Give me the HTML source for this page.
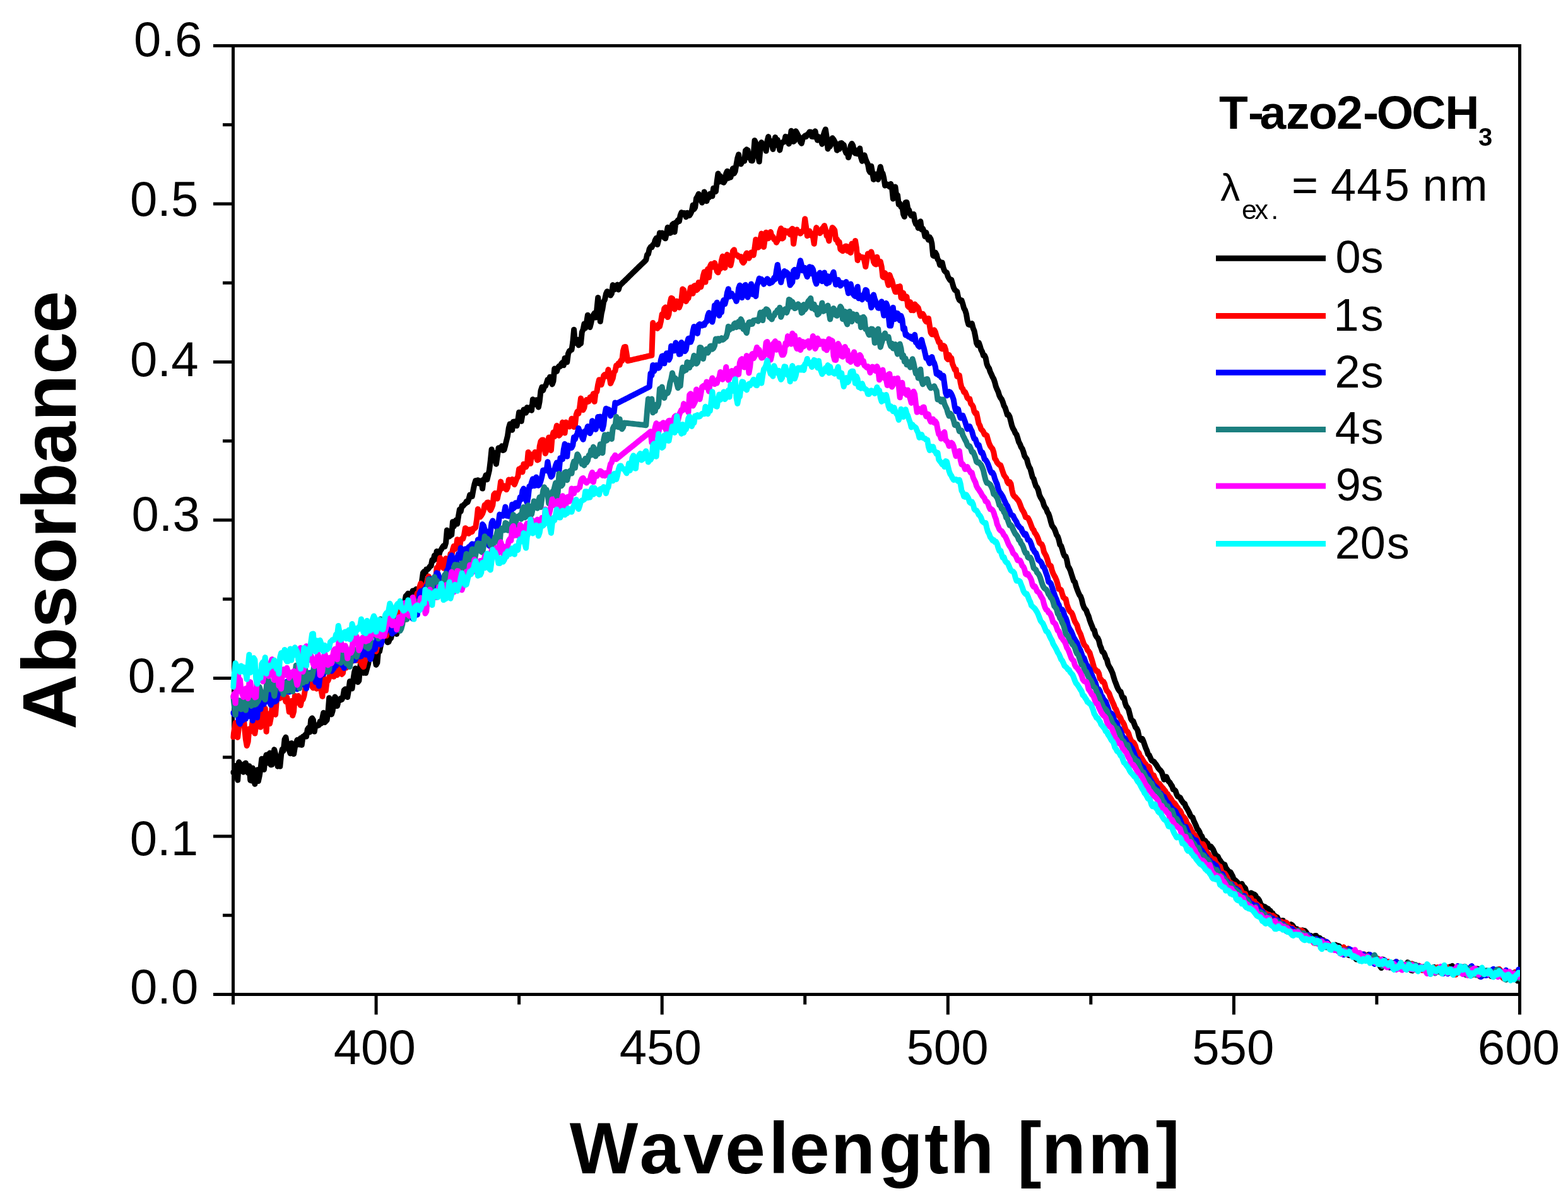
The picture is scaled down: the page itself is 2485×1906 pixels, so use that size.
<!DOCTYPE html><html><head><meta charset="utf-8"><title>Absorbance spectra</title>
<style>html,body{margin:0;padding:0;background:#fff;}svg{display:block;}text{font-family:"Liberation Sans",Arial,sans-serif;fill:#000;font-kerning:none;}</style></head><body>
<svg width="2485" height="1906" viewBox="0 0 2485 1906">
<rect x="0" y="0" width="2485" height="1906" fill="#fff"/>
<g stroke="#000" stroke-width="5" fill="none">
<rect x="369.5" y="72.5" width="2039.0" height="1503.0"/>
<line x1="338.0" y1="1575.5" x2="369.5" y2="1575.5"/>
<line x1="353.0" y1="1450.2" x2="369.5" y2="1450.2"/>
<line x1="338.0" y1="1325.0" x2="369.5" y2="1325.0"/>
<line x1="353.0" y1="1199.8" x2="369.5" y2="1199.8"/>
<line x1="338.0" y1="1074.5" x2="369.5" y2="1074.5"/>
<line x1="353.0" y1="949.2" x2="369.5" y2="949.2"/>
<line x1="338.0" y1="824.0" x2="369.5" y2="824.0"/>
<line x1="353.0" y1="698.7" x2="369.5" y2="698.7"/>
<line x1="338.0" y1="573.5" x2="369.5" y2="573.5"/>
<line x1="353.0" y1="448.2" x2="369.5" y2="448.2"/>
<line x1="338.0" y1="323.0" x2="369.5" y2="323.0"/>
<line x1="353.0" y1="197.7" x2="369.5" y2="197.7"/>
<line x1="338.0" y1="72.5" x2="369.5" y2="72.5"/>
<line x1="369.5" y1="1575.5" x2="369.5" y2="1591.5"/>
<line x1="596.1" y1="1575.5" x2="596.1" y2="1607.5"/>
<line x1="822.6" y1="1575.5" x2="822.6" y2="1591.5"/>
<line x1="1049.2" y1="1575.5" x2="1049.2" y2="1607.5"/>
<line x1="1275.7" y1="1575.5" x2="1275.7" y2="1591.5"/>
<line x1="1502.3" y1="1575.5" x2="1502.3" y2="1607.5"/>
<line x1="1728.8" y1="1575.5" x2="1728.8" y2="1591.5"/>
<line x1="1955.4" y1="1575.5" x2="1955.4" y2="1607.5"/>
<line x1="2181.9" y1="1575.5" x2="2181.9" y2="1591.5"/>
<line x1="2408.5" y1="1575.5" x2="2408.5" y2="1607.5"/>
</g>
<defs><clipPath id="pc"><rect x="365.5" y="72.5" width="2043.5" height="1503.0"/></clipPath></defs>
<g clip-path="url(#pc)" fill="none" stroke-width="9" stroke-linejoin="round" stroke-linecap="round">
<path stroke="#000000" d="M369.5,1223.8 L371.3,1223.2 L373.1,1213.3 L374.9,1218.0 L376.7,1235.9 L378.6,1207.6 L380.4,1210.3 L382.2,1214.6 L384.0,1220.4 L385.8,1223.3 L387.6,1210.3 L389.4,1208.9 L391.2,1215.1 L393.1,1224.4 L394.9,1213.8 L396.7,1236.2 L398.5,1236.9 L400.3,1217.1 L402.1,1228.1 L403.9,1242.2 L405.7,1231.7 L407.6,1219.8 L409.4,1237.4 L411.2,1229.3 L413.0,1218.1 L414.8,1202.2 L416.6,1210.5 L418.4,1219.3 L420.2,1202.7 L422.1,1195.9 L423.9,1208.8 L425.7,1196.6 L427.5,1192.9 L429.3,1211.8 L431.1,1211.4 L432.9,1202.8 L434.7,1187.6 L436.6,1194.8 L438.4,1204.5 L440.2,1214.2 L442.0,1207.2 L443.8,1214.2 L445.6,1195.7 L447.4,1187.0 L449.2,1189.5 L451.1,1171.4 L452.9,1168.1 L454.7,1178.8 L456.5,1181.7 L458.3,1188.6 L460.1,1193.8 L461.9,1177.4 L463.7,1179.0 L465.6,1194.6 L467.4,1184.1 L469.2,1178.7 L471.0,1172.3 L472.8,1175.6 L474.6,1179.8 L476.4,1169.5 L478.2,1180.3 L480.1,1167.1 L481.9,1166.7 L483.7,1164.3 L485.5,1167.0 L487.3,1155.7 L489.1,1152.9 L490.9,1159.9 L492.7,1140.7 L494.6,1137.8 L496.4,1140.7 L498.2,1159.1 L500.0,1148.9 L501.8,1149.0 L503.6,1149.7 L505.4,1148.9 L507.2,1143.1 L509.1,1146.2 L510.9,1137.5 L512.7,1129.3 L514.5,1144.5 L516.3,1142.7 L518.1,1140.8 L519.9,1128.3 L521.7,1105.8 L523.6,1110.4 L525.4,1131.9 L527.2,1126.2 L529.0,1110.8 L530.8,1104.1 L532.6,1106.8 L534.4,1118.5 L536.2,1111.6 L538.1,1110.0 L539.9,1106.6 L541.7,1108.4 L543.5,1104.6 L545.3,1093.7 L547.1,1091.8 L548.9,1095.0 L550.7,1104.5 L552.6,1093.4 L554.4,1079.6 L556.2,1085.5 L558.0,1090.9 L559.8,1076.7 L561.6,1065.0 L563.4,1059.0 L565.2,1073.7 L567.1,1080.7 L568.9,1078.4 L570.7,1056.3 L572.5,1045.5 L574.3,1063.6 L576.1,1066.2 L577.9,1059.8 L579.7,1066.3 L581.6,1059.1 L583.4,1052.8 L585.2,1043.2 L587.0,1040.5 L588.8,1041.4 L590.6,1035.1 L592.4,1038.3 L594.2,1042.7 L596.1,1053.4 L597.9,1050.1 L599.7,1030.0 L601.5,1032.1 L603.3,1023.1 L605.1,1015.8 L606.9,1009.7 L608.7,1012.1 L610.6,1009.0 L612.4,1012.5 L614.2,1017.8 L616.0,1016.9 L617.8,1012.1 L619.6,1011.2 L621.4,1004.2 L623.2,999.7 L625.1,992.7 L626.9,998.0 L628.7,1004.5 L630.5,993.0 L632.3,977.8 L634.1,971.1 L635.9,965.4 L637.7,978.0 L639.6,972.1 L641.4,953.3 L643.2,944.3 L645.0,942.7 L646.8,940.3 L648.6,956.0 L650.4,949.9 L652.2,942.7 L654.1,935.9 L655.9,939.5 L657.7,935.5 L659.5,933.6 L661.3,944.1 L663.1,936.1 L664.9,933.2 L666.7,930.7 L668.6,920.8 L670.4,907.7 L672.2,905.4 L674.0,908.6 L675.8,902.1 L677.6,902.2 L679.4,900.5 L681.2,897.6 L683.1,896.6 L684.9,887.3 L686.7,888.4 L688.5,880.0 L690.3,885.7 L692.1,873.5 L693.9,876.6 L695.7,879.3 L697.6,872.8 L699.4,870.5 L701.2,867.2 L703.0,864.8 L704.8,866.1 L706.6,860.2 L708.4,840.0 L710.2,845.1 L712.1,850.0 L713.9,848.3 L715.7,847.5 L717.5,826.7 L719.3,834.3 L721.1,826.7 L722.9,823.9 L724.7,830.1 L726.6,817.5 L728.4,807.3 L730.2,810.4 L732.0,801.8 L733.8,801.7 L735.6,799.3 L737.4,798.1 L739.2,794.6 L741.1,795.6 L742.9,790.9 L744.7,783.9 L746.5,786.9 L748.3,786.4 L750.1,776.0 L751.9,767.3 L753.7,761.6 L755.6,765.5 L757.4,760.7 L759.2,766.1 L761.0,762.0 L762.8,761.8 L764.6,774.1 L766.4,759.6 L768.2,758.2 L770.1,752.7 L771.9,759.8 L773.7,752.5 L775.5,745.0 L777.3,730.1 L779.1,712.0 L780.9,723.9 L782.7,717.1 L784.5,722.7 L786.4,735.2 L788.2,722.9 L790.0,709.8 L791.8,713.1 L793.6,709.9 L795.4,706.7 L797.2,713.5 L799.0,712.5 L800.9,705.5 L802.7,697.9 L804.5,690.6 L806.3,678.0 L808.1,671.8 L809.9,680.3 L811.7,681.3 L813.5,668.2 L815.4,668.0 L817.2,668.3 L819.0,674.6 L820.8,665.7 L822.6,653.2 L824.4,657.1 L826.2,667.4 L828.0,657.3 L829.9,649.0 L831.7,650.6 L833.5,654.0 L835.3,645.6 L837.1,650.0 L838.9,647.3 L840.7,645.0 L842.5,650.2 L844.4,632.7 L846.2,634.7 L848.0,640.7 L849.8,633.7 L851.6,639.2 L853.4,645.1 L855.2,635.8 L857.0,619.2 L858.9,613.3 L860.7,618.5 L862.5,612.7 L864.3,611.8 L866.1,607.4 L867.9,601.6 L869.7,604.8 L871.5,597.2 L873.4,597.8 L875.2,608.9 L877.0,603.7 L878.8,584.1 L880.6,587.3 L882.4,588.4 L884.2,582.5 L886.0,580.1 L887.9,580.6 L889.7,576.2 L891.5,574.2 L893.3,578.7 L895.1,567.5 L896.9,567.2 L898.7,573.8 L900.5,560.4 L902.4,556.2 L904.2,554.9 L906.0,554.1 L907.8,542.3 L909.6,522.3 L911.4,543.4 L913.2,538.4 L915.0,537.9 L916.9,546.9 L918.7,545.2 L920.5,544.3 L922.3,526.2 L924.1,522.1 L925.9,513.1 L927.7,519.9 L929.5,511.3 L931.4,499.2 L933.2,510.7 L935.0,518.5 L936.8,511.3 L938.6,503.0 L940.4,499.0 L942.2,496.0 L944.0,503.1 L945.9,489.9 L947.7,471.6 L949.5,485.7 L951.3,509.3 L953.1,497.0 L954.9,489.4 L956.7,478.1 L958.5,474.7 L960.4,465.7 L962.2,461.7 L964.0,463.2 L965.8,466.2 L967.6,468.0 L969.4,465.1 L971.2,451.6 L973.0,459.1 L974.9,458.0 L976.7,454.4 L978.5,451.1 L980.3,458.9 L982.1,452.5 L983.9,450.7 L985.7,449.0 L987.5,447.2 L989.4,445.5 L991.2,443.7 L993.0,441.9 L994.8,440.2 L996.6,438.4 L998.4,436.6 L1000.2,434.9 L1002.0,433.1 L1003.9,431.3 L1005.7,429.6 L1007.5,427.8 L1009.3,426.0 L1011.1,424.3 L1012.9,422.5 L1014.7,420.7 L1016.5,419.0 L1018.4,417.2 L1020.2,415.5 L1022.0,413.7 L1023.8,411.9 L1025.6,403.6 L1027.4,402.5 L1029.2,394.5 L1031.0,391.4 L1032.9,391.8 L1034.7,387.9 L1036.5,386.9 L1038.3,380.6 L1040.1,377.3 L1041.9,387.5 L1043.7,380.7 L1045.5,368.9 L1047.4,372.6 L1049.2,369.1 L1051.0,371.9 L1052.8,376.7 L1054.6,377.8 L1056.4,369.7 L1058.2,360.2 L1060.0,363.3 L1061.9,369.2 L1063.7,368.2 L1065.5,355.9 L1067.3,354.3 L1069.1,367.5 L1070.9,352.6 L1072.7,352.8 L1074.5,348.6 L1076.4,350.7 L1078.2,341.1 L1080.0,336.6 L1081.8,339.5 L1083.6,337.5 L1085.4,337.8 L1087.2,343.8 L1089.0,337.2 L1090.9,339.4 L1092.7,341.4 L1094.5,338.6 L1096.3,334.4 L1098.1,325.1 L1099.9,331.5 L1101.7,328.4 L1103.5,314.4 L1105.4,311.3 L1107.2,307.3 L1109.0,312.6 L1110.8,317.3 L1112.6,321.1 L1114.4,315.5 L1116.2,303.9 L1118.0,309.1 L1119.9,318.7 L1121.7,312.2 L1123.5,313.0 L1125.3,306.9 L1127.1,307.6 L1128.9,310.8 L1130.7,298.2 L1132.5,298.2 L1134.4,303.6 L1136.2,287.7 L1138.0,275.0 L1139.8,288.0 L1141.6,278.9 L1143.4,286.1 L1145.2,288.3 L1147.0,289.1 L1148.9,285.9 L1150.7,275.1 L1152.5,271.2 L1154.3,282.2 L1156.1,280.5 L1157.9,280.9 L1159.7,273.2 L1161.5,266.8 L1163.4,274.9 L1165.2,271.2 L1167.0,260.6 L1168.8,250.6 L1170.6,244.8 L1172.4,257.6 L1174.2,259.9 L1176.0,256.8 L1177.9,253.8 L1179.7,255.1 L1181.5,238.6 L1183.3,236.9 L1185.1,238.1 L1186.9,250.0 L1188.7,244.0 L1190.5,254.4 L1192.3,254.8 L1194.2,244.5 L1196.0,222.4 L1197.8,226.6 L1199.6,240.8 L1201.4,246.5 L1203.2,256.0 L1205.0,235.8 L1206.8,225.6 L1208.7,229.6 L1210.5,228.5 L1212.3,230.2 L1214.1,239.2 L1215.9,223.5 L1217.7,216.5 L1219.5,226.8 L1221.3,223.3 L1223.2,228.9 L1225.0,236.4 L1226.8,226.1 L1228.6,217.6 L1230.4,229.9 L1232.2,221.4 L1234.0,226.8 L1235.8,237.9 L1237.7,228.7 L1239.5,226.4 L1241.3,224.4 L1243.1,224.8 L1244.9,216.3 L1246.7,222.2 L1248.5,217.0 L1250.3,227.9 L1252.2,221.8 L1254.0,207.3 L1255.8,213.7 L1257.6,224.3 L1259.4,223.1 L1261.2,207.7 L1263.0,210.8 L1264.8,214.4 L1266.7,217.9 L1268.5,225.0 L1270.3,227.2 L1272.1,220.2 L1273.9,216.9 L1275.7,215.2 L1277.5,216.6 L1279.3,213.2 L1281.2,211.7 L1283.0,209.0 L1284.8,209.2 L1286.6,216.3 L1288.4,216.5 L1290.2,216.2 L1292.0,207.8 L1293.8,217.5 L1295.7,222.2 L1297.5,216.8 L1299.3,222.1 L1301.1,222.2 L1302.9,228.2 L1304.7,215.2 L1306.5,209.3 L1308.3,205.0 L1310.2,217.1 L1312.0,235.9 L1313.8,231.5 L1315.6,231.8 L1317.4,227.7 L1319.2,218.7 L1321.0,221.0 L1322.8,224.3 L1324.7,227.7 L1326.5,238.2 L1328.3,236.4 L1330.1,236.1 L1331.9,226.9 L1333.7,226.6 L1335.5,228.6 L1337.3,229.7 L1339.2,238.0 L1341.0,242.6 L1342.8,239.6 L1344.6,249.6 L1346.4,242.9 L1348.2,230.9 L1350.0,227.5 L1351.8,230.7 L1353.7,240.8 L1355.5,243.0 L1357.3,238.2 L1359.1,243.8 L1360.9,242.4 L1362.7,235.0 L1364.5,249.5 L1366.3,255.2 L1368.2,253.4 L1370.0,245.8 L1371.8,252.0 L1373.6,256.5 L1375.4,259.8 L1377.2,269.8 L1379.0,273.1 L1380.8,263.3 L1382.7,274.1 L1384.5,284.4 L1386.3,282.8 L1388.1,276.1 L1389.9,280.4 L1391.7,284.4 L1393.5,272.4 L1395.3,264.2 L1397.2,272.6 L1399.0,274.8 L1400.8,282.4 L1402.6,294.1 L1404.4,293.5 L1406.2,292.2 L1408.0,293.9 L1409.8,295.9 L1411.7,291.3 L1413.5,296.7 L1415.3,314.9 L1417.1,302.3 L1418.9,296.0 L1420.7,310.7 L1422.5,309.3 L1424.3,324.0 L1426.2,322.4 L1428.0,327.9 L1429.8,326.6 L1431.6,339.3 L1433.4,343.3 L1435.2,320.9 L1437.0,320.4 L1438.8,330.5 L1440.7,333.0 L1442.5,339.3 L1444.3,341.7 L1446.1,340.0 L1447.9,339.2 L1449.7,350.1 L1451.5,354.9 L1453.3,354.6 L1455.2,361.2 L1457.0,352.6 L1458.8,350.7 L1460.6,363.7 L1462.4,362.0 L1464.2,366.4 L1466.0,374.8 L1467.8,368.3 L1469.7,376.1 L1471.5,380.0 L1473.3,375.7 L1475.1,378.7 L1476.9,386.1 L1478.7,404.9 L1480.5,405.8 L1482.3,400.1 L1484.2,403.4 L1486.0,410.8 L1487.8,413.0 L1489.6,419.9 L1491.4,418.9 L1493.2,415.9 L1495.0,424.0 L1496.8,428.9 L1498.7,430.9 L1500.5,431.9 L1502.3,438.1 L1504.1,441.3 L1505.9,444.1 L1507.7,443.0 L1509.5,449.2 L1511.3,455.5 L1513.2,459.3 L1515.0,460.6 L1516.8,462.2 L1518.6,471.0 L1520.4,475.3 L1522.2,476.8 L1524.0,475.8 L1525.8,481.3 L1527.7,488.4 L1529.5,491.4 L1531.3,497.1 L1533.1,507.8 L1534.9,513.9 L1536.7,514.8 L1538.5,514.6 L1540.3,512.6 L1542.2,519.9 L1544.0,524.2 L1545.8,533.1 L1547.6,543.5 L1549.4,547.1 L1551.2,542.8 L1553.0,547.8 L1554.8,554.0 L1556.7,557.5 L1558.5,563.2 L1560.3,563.0 L1562.1,567.1 L1563.9,576.5 L1565.7,581.1 L1567.5,583.4 L1569.3,589.1 L1571.2,593.0 L1573.0,597.3 L1574.8,600.3 L1576.6,605.6 L1578.4,612.6 L1580.2,616.9 L1582.0,620.7 L1583.8,626.7 L1585.7,630.4 L1587.5,632.6 L1589.3,637.0 L1591.1,642.9 L1592.9,645.8 L1594.7,651.5 L1596.5,657.4 L1598.3,656.9 L1600.1,660.2 L1602.0,667.6 L1603.8,674.8 L1605.6,679.2 L1607.4,682.1 L1609.2,686.4 L1611.0,688.5 L1612.8,694.0 L1614.6,700.2 L1616.5,703.6 L1618.3,708.3 L1620.1,710.8 L1621.9,715.7 L1623.7,722.3 L1625.5,725.1 L1627.3,727.4 L1629.1,734.5 L1631.0,739.7 L1632.8,742.6 L1634.6,749.4 L1636.4,756.1 L1638.2,758.6 L1640.0,764.9 L1641.8,770.2 L1643.6,772.2 L1645.5,776.6 L1647.3,784.2 L1649.1,788.1 L1650.9,791.0 L1652.7,794.4 L1654.5,800.6 L1656.3,804.0 L1658.1,806.3 L1660.0,811.5 L1661.8,814.1 L1663.6,819.5 L1665.4,826.7 L1667.2,832.5 L1669.0,835.1 L1670.8,837.6 L1672.6,841.9 L1674.5,847.6 L1676.3,849.9 L1678.1,855.3 L1679.9,863.2 L1681.7,864.8 L1683.5,870.3 L1685.3,876.8 L1687.1,880.9 L1689.0,881.5 L1690.8,887.5 L1692.6,896.9 L1694.4,899.7 L1696.2,903.5 L1698.0,909.4 L1699.8,914.8 L1701.6,920.5 L1703.5,922.1 L1705.3,928.7 L1707.1,933.9 L1708.9,938.4 L1710.7,942.6 L1712.5,944.8 L1714.3,949.7 L1716.1,957.4 L1718.0,962.5 L1719.8,965.0 L1721.6,967.3 L1723.4,972.5 L1725.2,976.2 L1727.0,982.4 L1728.8,987.4 L1730.6,991.7 L1732.5,996.9 L1734.3,998.6 L1736.1,1005.9 L1737.9,1009.1 L1739.7,1010.8 L1741.5,1014.8 L1743.3,1022.5 L1745.1,1026.6 L1747.0,1032.8 L1748.8,1033.4 L1750.6,1036.8 L1752.4,1042.4 L1754.2,1044.9 L1756.0,1052.2 L1757.8,1055.9 L1759.6,1058.7 L1761.5,1062.7 L1763.3,1066.8 L1765.1,1073.2 L1766.9,1078.9 L1768.7,1083.3 L1770.5,1088.1 L1772.3,1092.1 L1774.1,1094.8 L1776.0,1095.9 L1777.8,1101.8 L1779.6,1106.0 L1781.4,1105.7 L1783.2,1114.1 L1785.0,1119.1 L1786.8,1121.1 L1788.6,1124.3 L1790.5,1131.9 L1792.3,1139.0 L1794.1,1141.7 L1795.9,1142.6 L1797.7,1147.4 L1799.5,1152.2 L1801.3,1153.9 L1803.1,1157.6 L1805.0,1166.1 L1806.8,1170.8 L1808.6,1172.4 L1810.4,1170.6 L1812.2,1174.8 L1814.0,1180.0 L1815.8,1185.2 L1817.6,1189.2 L1819.5,1195.2 L1821.3,1196.5 L1823.1,1200.5 L1824.9,1204.5 L1826.7,1205.8 L1828.5,1206.4 L1830.3,1209.0 L1832.1,1211.2 L1834.0,1214.2 L1835.8,1217.3 L1837.6,1219.3 L1839.4,1220.9 L1841.2,1223.6 L1843.0,1229.0 L1844.8,1235.1 L1846.6,1232.8 L1848.5,1230.8 L1850.3,1234.8 L1852.1,1238.1 L1853.9,1239.6 L1855.7,1243.0 L1857.5,1245.5 L1859.3,1250.7 L1861.1,1251.4 L1863.0,1253.1 L1864.8,1258.6 L1866.6,1261.9 L1868.4,1262.8 L1870.2,1263.4 L1872.0,1267.2 L1873.8,1269.9 L1875.6,1272.3 L1877.5,1273.4 L1879.3,1278.3 L1881.1,1280.9 L1882.9,1284.1 L1884.7,1287.5 L1886.5,1292.0 L1888.3,1294.3 L1890.1,1295.1 L1892.0,1300.6 L1893.8,1304.4 L1895.6,1308.4 L1897.4,1313.2 L1899.2,1315.0 L1901.0,1318.1 L1902.8,1323.2 L1904.6,1324.8 L1906.5,1329.9 L1908.3,1331.5 L1910.1,1332.1 L1911.9,1334.9 L1913.7,1336.2 L1915.5,1340.6 L1917.3,1342.3 L1919.1,1341.2 L1921.0,1343.7 L1922.8,1346.5 L1924.6,1350.9 L1926.4,1354.4 L1928.2,1355.7 L1930.0,1356.9 L1931.8,1360.9 L1933.6,1363.2 L1935.5,1366.3 L1937.3,1368.0 L1939.1,1370.9 L1940.9,1369.9 L1942.7,1375.0 L1944.5,1377.3 L1946.3,1379.7 L1948.1,1381.5 L1950.0,1381.8 L1951.8,1385.0 L1953.6,1388.4 L1955.4,1393.5 L1957.2,1394.3 L1959.0,1395.9 L1960.8,1397.6 L1962.6,1400.4 L1964.5,1402.8 L1966.3,1401.6 L1968.1,1400.2 L1969.9,1403.7 L1971.7,1405.4 L1973.5,1407.3 L1975.3,1413.9 L1977.1,1417.6 L1979.0,1417.7 L1980.8,1416.2 L1982.6,1414.7 L1984.4,1415.5 L1986.2,1421.1 L1988.0,1417.0 L1989.8,1418.9 L1991.6,1423.0 L1993.5,1423.5 L1995.3,1425.9 L1997.1,1430.0 L1998.9,1435.1 L2000.7,1434.9 L2002.5,1437.5 L2004.3,1436.5 L2006.1,1437.8 L2007.9,1439.6 L2009.8,1439.8 L2011.6,1443.6 L2013.4,1443.1 L2015.2,1447.0 L2017.0,1446.8 L2018.8,1451.3 L2020.6,1451.2 L2022.4,1452.5 L2024.3,1453.4 L2026.1,1457.6 L2027.9,1460.4 L2029.7,1461.3 L2031.5,1458.8 L2033.3,1458.5 L2035.1,1464.6 L2036.9,1468.0 L2038.8,1466.8 L2040.6,1465.5 L2042.4,1467.6 L2044.2,1469.0 L2046.0,1464.6 L2047.8,1465.6 L2049.6,1467.8 L2051.4,1471.3 L2053.3,1472.1 L2055.1,1471.8 L2056.9,1477.1 L2058.7,1474.0 L2060.5,1474.7 L2062.3,1475.1 L2064.1,1473.9 L2065.9,1475.6 L2067.8,1474.6 L2069.6,1476.5 L2071.4,1479.3 L2073.2,1483.6 L2075.0,1484.1 L2076.8,1482.3 L2078.6,1484.7 L2080.4,1485.4 L2082.3,1483.4 L2084.1,1482.6 L2085.9,1482.5 L2087.7,1486.0 L2089.5,1489.2 L2091.3,1485.9 L2093.1,1488.3 L2094.9,1489.4 L2096.8,1489.3 L2098.6,1491.1 L2100.4,1494.0 L2102.2,1493.1 L2104.0,1493.5 L2105.8,1496.2 L2107.6,1499.6 L2109.4,1500.3 L2111.3,1499.9 L2113.1,1502.4 L2114.9,1502.2 L2116.7,1496.9 L2118.5,1499.0 L2120.3,1498.5 L2122.1,1498.9 L2123.9,1500.8 L2125.8,1502.7 L2127.6,1507.1 L2129.4,1503.8 L2131.2,1506.7 L2133.0,1504.1 L2134.8,1506.3 L2136.6,1512.8 L2138.4,1513.6 L2140.3,1510.9 L2142.1,1507.1 L2143.9,1507.8 L2145.7,1509.8 L2147.5,1516.6 L2149.3,1520.0 L2151.1,1514.5 L2152.9,1513.6 L2154.8,1513.9 L2156.6,1512.3 L2158.4,1516.0 L2160.2,1519.3 L2162.0,1518.2 L2163.8,1516.0 L2165.6,1515.2 L2167.4,1514.4 L2169.3,1512.2 L2171.1,1516.8 L2172.9,1520.1 L2174.7,1522.7 L2176.5,1521.8 L2178.3,1518.3 L2180.1,1519.7 L2181.9,1521.5 L2183.8,1521.0 L2185.6,1524.2 L2187.4,1531.1 L2189.2,1533.6 L2191.0,1519.9 L2192.8,1520.5 L2194.6,1525.8 L2196.4,1530.9 L2198.3,1531.2 L2200.1,1524.4 L2201.9,1533.0 L2203.7,1529.6 L2205.5,1527.0 L2207.3,1525.5 L2209.1,1526.0 L2210.9,1526.5 L2212.8,1523.6 L2214.6,1530.1 L2216.4,1534.5 L2218.2,1530.1 L2220.0,1525.2 L2221.8,1528.3 L2223.6,1528.9 L2225.4,1530.8 L2227.3,1533.8 L2229.1,1527.8 L2230.9,1524.7 L2232.7,1527.3 L2234.5,1533.1 L2236.3,1537.2 L2238.1,1537.9 L2239.9,1534.4 L2241.8,1531.0 L2243.6,1532.5 L2245.4,1536.3 L2247.2,1533.8 L2249.0,1533.3 L2250.8,1533.3 L2252.6,1534.7 L2254.4,1534.6 L2256.3,1532.0 L2258.1,1535.4 L2259.9,1534.4 L2261.7,1533.3 L2263.5,1536.5 L2265.3,1535.9 L2267.1,1542.6 L2268.9,1536.2 L2270.8,1533.5 L2272.6,1532.2 L2274.4,1536.5 L2276.2,1537.6 L2278.0,1537.1 L2279.8,1536.0 L2281.6,1540.0 L2283.4,1540.4 L2285.3,1534.6 L2287.1,1539.5 L2288.9,1538.4 L2290.7,1535.1 L2292.5,1536.5 L2294.3,1533.2 L2296.1,1536.1 L2297.9,1531.7 L2299.8,1533.2 L2301.6,1530.3 L2303.4,1538.2 L2305.2,1539.1 L2307.0,1539.6 L2308.8,1540.2 L2310.6,1537.7 L2312.4,1533.9 L2314.3,1540.5 L2316.1,1539.5 L2317.9,1537.1 L2319.7,1535.4 L2321.5,1531.3 L2323.3,1533.1 L2325.1,1538.9 L2326.9,1540.3 L2328.8,1538.1 L2330.6,1542.5 L2332.4,1545.0 L2334.2,1541.5 L2336.0,1542.2 L2337.8,1544.1 L2339.6,1541.9 L2341.4,1534.9 L2343.3,1535.2 L2345.1,1537.4 L2346.9,1542.5 L2348.7,1546.4 L2350.5,1542.3 L2352.3,1540.2 L2354.1,1543.2 L2355.9,1540.6 L2357.8,1539.1 L2359.6,1540.8 L2361.4,1544.8 L2363.2,1546.7 L2365.0,1543.0 L2366.8,1544.6 L2368.6,1546.2 L2370.4,1544.2 L2372.3,1540.3 L2374.1,1542.6 L2375.9,1546.4 L2377.7,1544.4 L2379.5,1542.7 L2381.3,1541.2 L2383.1,1543.4 L2384.9,1544.8 L2386.8,1546.6 L2388.6,1541.3 L2390.4,1541.8 L2392.2,1541.4 L2394.0,1542.7 L2395.8,1545.5 L2397.6,1544.9 L2399.4,1543.5 L2401.3,1540.6 L2403.1,1548.1 L2404.9,1553.9 L2406.7,1548.2 L2408.5,1543.3"/>
<path stroke="#ff0000" d="M369.5,1167.7 L371.3,1156.4 L373.1,1145.2 L374.9,1162.6 L376.7,1168.3 L378.6,1150.7 L380.4,1132.0 L382.2,1119.5 L384.0,1128.8 L385.8,1131.1 L387.6,1153.8 L389.4,1171.5 L391.2,1181.5 L393.1,1175.3 L394.9,1154.8 L396.7,1155.0 L398.5,1158.3 L400.3,1140.3 L402.1,1145.9 L403.9,1162.1 L405.7,1150.6 L407.6,1115.7 L409.4,1142.3 L411.2,1150.8 L413.0,1152.1 L414.8,1125.2 L416.6,1130.0 L418.4,1125.3 L420.2,1122.3 L422.1,1159.2 L423.9,1130.7 L425.7,1137.8 L427.5,1146.6 L429.3,1137.4 L431.1,1121.5 L432.9,1118.2 L434.7,1127.0 L436.6,1132.2 L438.4,1108.6 L440.2,1099.7 L442.0,1102.8 L443.8,1106.2 L445.6,1092.3 L447.4,1091.1 L449.2,1101.5 L451.1,1104.3 L452.9,1111.6 L454.7,1104.6 L456.5,1114.3 L458.3,1128.0 L460.1,1120.5 L461.9,1110.5 L463.7,1133.7 L465.6,1127.3 L467.4,1102.4 L469.2,1113.8 L471.0,1111.3 L472.8,1102.4 L474.6,1112.9 L476.4,1117.5 L478.2,1108.7 L480.1,1108.2 L481.9,1102.5 L483.7,1091.9 L485.5,1075.7 L487.3,1080.6 L489.1,1080.3 L490.9,1080.6 L492.7,1079.5 L494.6,1087.7 L496.4,1090.0 L498.2,1083.8 L500.0,1084.6 L501.8,1091.2 L503.6,1085.4 L505.4,1073.4 L507.2,1083.0 L509.1,1094.0 L510.9,1103.4 L512.7,1073.7 L514.5,1082.3 L516.3,1094.1 L518.1,1079.1 L519.9,1078.3 L521.7,1073.6 L523.6,1066.2 L525.4,1062.1 L527.2,1064.3 L529.0,1072.1 L530.8,1069.5 L532.6,1058.2 L534.4,1069.5 L536.2,1063.5 L538.1,1057.6 L539.9,1066.6 L541.7,1068.2 L543.5,1066.3 L545.3,1054.9 L547.1,1056.1 L548.9,1058.0 L550.7,1053.0 L552.6,1049.2 L554.4,1038.2 L556.2,1039.1 L558.0,1047.9 L559.8,1040.4 L561.6,1030.1 L563.4,1044.1 L565.2,1046.3 L567.1,1042.4 L568.9,1041.8 L570.7,1045.7 L572.5,1051.3 L574.3,1054.4 L576.1,1056.6 L577.9,1049.1 L579.7,1043.1 L581.6,1037.8 L583.4,1022.1 L585.2,1036.5 L587.0,1038.4 L588.8,1027.6 L590.6,1024.3 L592.4,1029.6 L594.2,1026.1 L596.1,1032.1 L597.9,1023.9 L599.7,1019.6 L601.5,1010.8 L603.3,1021.1 L605.1,1013.9 L606.9,1006.6 L608.7,994.5 L610.6,993.3 L612.4,1007.2 L614.2,995.6 L616.0,992.0 L617.8,988.1 L619.6,985.9 L621.4,994.4 L623.2,996.3 L625.1,993.6 L626.9,981.9 L628.7,977.7 L630.5,981.0 L632.3,978.9 L634.1,964.6 L635.9,981.3 L637.7,974.8 L639.6,972.8 L641.4,981.8 L643.2,960.9 L645.0,955.4 L646.8,961.2 L648.6,965.1 L650.4,964.0 L652.2,973.3 L654.1,961.7 L655.9,962.5 L657.7,959.0 L659.5,946.5 L661.3,939.9 L663.1,945.0 L664.9,930.1 L666.7,924.5 L668.6,933.3 L670.4,934.5 L672.2,933.7 L674.0,930.6 L675.8,925.9 L677.6,917.9 L679.4,913.1 L681.2,923.9 L683.1,922.3 L684.9,923.6 L686.7,919.1 L688.5,921.4 L690.3,920.0 L692.1,899.6 L693.9,902.3 L695.7,894.0 L697.6,883.8 L699.4,889.6 L701.2,890.5 L703.0,900.2 L704.8,894.9 L706.6,884.7 L708.4,889.7 L710.2,892.2 L712.1,894.1 L713.9,877.6 L715.7,880.7 L717.5,870.8 L719.3,865.2 L721.1,870.1 L722.9,866.9 L724.7,854.7 L726.6,864.3 L728.4,866.6 L730.2,856.1 L732.0,853.4 L733.8,853.4 L735.6,847.6 L737.4,836.7 L739.2,838.0 L741.1,844.7 L742.9,845.4 L744.7,838.9 L746.5,843.0 L748.3,842.4 L750.1,837.2 L751.9,837.5 L753.7,835.6 L755.6,823.2 L757.4,806.6 L759.2,814.9 L761.0,819.1 L762.8,816.8 L764.6,813.8 L766.4,808.6 L768.2,800.0 L770.1,801.6 L771.9,796.2 L773.7,796.0 L775.5,805.6 L777.3,808.5 L779.1,804.8 L780.9,800.1 L782.7,783.7 L784.5,781.4 L786.4,785.6 L788.2,790.1 L790.0,781.5 L791.8,777.0 L793.6,763.1 L795.4,773.8 L797.2,772.0 L799.0,769.7 L800.9,773.9 L802.7,775.8 L804.5,772.2 L806.3,760.0 L808.1,764.4 L809.9,762.1 L811.7,759.3 L813.5,762.6 L815.4,767.7 L817.2,763.1 L819.0,758.1 L820.8,755.3 L822.6,743.0 L824.4,744.6 L826.2,741.1 L828.0,747.9 L829.9,735.2 L831.7,739.7 L833.5,740.0 L835.3,736.5 L837.1,716.4 L838.9,732.1 L840.7,734.4 L842.5,720.1 L844.4,720.0 L846.2,721.4 L848.0,716.2 L849.8,723.4 L851.6,729.1 L853.4,728.1 L855.2,707.0 L857.0,699.3 L858.9,697.0 L860.7,697.1 L862.5,708.2 L864.3,718.5 L866.1,713.8 L867.9,702.3 L869.7,693.1 L871.5,708.4 L873.4,713.6 L875.2,691.5 L877.0,685.0 L878.8,691.6 L880.6,682.1 L882.4,674.3 L884.2,676.6 L886.0,690.2 L887.9,687.9 L889.7,681.0 L891.5,669.1 L893.3,673.7 L895.1,686.0 L896.9,669.0 L898.7,671.0 L900.5,675.3 L902.4,675.9 L904.2,671.2 L906.0,663.2 L907.8,671.2 L909.6,676.6 L911.4,673.4 L913.2,657.0 L915.0,652.2 L916.9,655.2 L918.7,645.3 L920.5,631.1 L922.3,643.3 L924.1,649.6 L925.9,646.0 L927.7,636.4 L929.5,633.4 L931.4,636.6 L933.2,635.9 L935.0,629.7 L936.8,628.6 L938.6,628.9 L940.4,623.7 L942.2,636.3 L944.0,622.2 L945.9,620.4 L947.7,609.2 L949.5,601.7 L951.3,605.9 L953.1,609.4 L954.9,602.9 L956.7,595.2 L958.5,593.4 L960.4,596.3 L962.2,595.7 L964.0,585.6 L965.8,595.9 L967.6,607.6 L969.4,603.3 L971.2,599.3 L973.0,589.8 L974.9,587.7 L976.7,579.0 L978.5,579.6 L980.3,575.3 L982.1,578.1 L983.9,571.1 L985.7,571.8 L987.5,556.1 L989.4,549.6 L991.2,549.4 L993.0,560.0 L994.8,571.7 L996.6,571.3 L998.4,570.9 L1000.2,570.5 L1002.0,570.1 L1003.9,569.7 L1005.7,569.2 L1007.5,568.8 L1009.3,568.4 L1011.1,568.0 L1012.9,567.6 L1014.7,567.2 L1016.5,566.7 L1018.4,566.3 L1020.2,565.9 L1022.0,565.5 L1023.8,565.1 L1025.6,564.6 L1027.4,564.2 L1029.2,563.8 L1031.0,563.4 L1032.9,563.0 L1034.7,511.5 L1036.5,517.8 L1038.3,518.3 L1040.1,516.4 L1041.9,520.4 L1043.7,513.8 L1045.5,517.3 L1047.4,509.2 L1049.2,497.9 L1051.0,500.3 L1052.8,488.7 L1054.6,486.9 L1056.4,488.4 L1058.2,502.6 L1060.0,497.8 L1061.9,480.1 L1063.7,472.2 L1065.5,472.9 L1067.3,477.0 L1069.1,490.0 L1070.9,480.5 L1072.7,477.2 L1074.5,478.1 L1076.4,487.3 L1078.2,482.4 L1080.0,474.3 L1081.8,457.9 L1083.6,459.6 L1085.4,471.2 L1087.2,477.5 L1089.0,474.0 L1090.9,472.5 L1092.7,464.0 L1094.5,455.4 L1096.3,464.6 L1098.1,465.1 L1099.9,453.3 L1101.7,452.3 L1103.5,459.8 L1105.4,458.4 L1107.2,447.4 L1109.0,447.6 L1110.8,454.7 L1112.6,447.6 L1114.4,437.1 L1116.2,430.8 L1118.0,446.9 L1119.9,432.1 L1121.7,426.3 L1123.5,439.6 L1125.3,422.0 L1127.1,418.3 L1128.9,422.8 L1130.7,423.0 L1132.5,416.5 L1134.4,422.4 L1136.2,429.7 L1138.0,431.8 L1139.8,425.6 L1141.6,425.7 L1143.4,413.1 L1145.2,406.0 L1147.0,419.6 L1148.9,424.3 L1150.7,411.1 L1152.5,403.3 L1154.3,412.7 L1156.1,411.4 L1157.9,420.5 L1159.7,412.3 L1161.5,397.9 L1163.4,395.7 L1165.2,404.1 L1167.0,404.0 L1168.8,404.3 L1170.6,407.0 L1172.4,407.1 L1174.2,406.6 L1176.0,413.7 L1177.9,416.3 L1179.7,414.0 L1181.5,404.7 L1183.3,400.9 L1185.1,404.9 L1186.9,409.2 L1188.7,405.7 L1190.5,400.0 L1192.3,399.7 L1194.2,404.3 L1196.0,393.0 L1197.8,379.4 L1199.6,384.5 L1201.4,392.1 L1203.2,390.8 L1205.0,378.8 L1206.8,370.1 L1208.7,386.5 L1210.5,391.3 L1212.3,378.7 L1214.1,368.2 L1215.9,377.6 L1217.7,377.8 L1219.5,375.4 L1221.3,367.4 L1223.2,375.1 L1225.0,374.9 L1226.8,379.4 L1228.6,379.3 L1230.4,384.3 L1232.2,381.0 L1234.0,377.8 L1235.8,367.2 L1237.7,361.8 L1239.5,378.1 L1241.3,376.8 L1243.1,365.1 L1244.9,366.0 L1246.7,368.4 L1248.5,366.4 L1250.3,367.6 L1252.2,371.4 L1254.0,363.9 L1255.8,362.2 L1257.6,386.3 L1259.4,373.7 L1261.2,368.0 L1263.0,363.7 L1264.8,368.7 L1266.7,367.3 L1268.5,370.0 L1270.3,367.6 L1272.1,366.4 L1273.9,362.9 L1275.7,346.8 L1277.5,359.5 L1279.3,373.7 L1281.2,368.9 L1283.0,366.1 L1284.8,372.8 L1286.6,370.2 L1288.4,375.1 L1290.2,386.2 L1292.0,370.2 L1293.8,360.6 L1295.7,366.0 L1297.5,367.9 L1299.3,369.6 L1301.1,367.8 L1302.9,362.3 L1304.7,360.6 L1306.5,357.5 L1308.3,363.3 L1310.2,373.9 L1312.0,374.6 L1313.8,381.7 L1315.6,368.5 L1317.4,366.5 L1319.2,360.5 L1321.0,362.2 L1322.8,364.8 L1324.7,379.6 L1326.5,379.0 L1328.3,385.2 L1330.1,383.3 L1331.9,395.0 L1333.7,396.4 L1335.5,397.8 L1337.3,394.7 L1339.2,390.3 L1341.0,389.9 L1342.8,397.5 L1344.6,391.1 L1346.4,399.1 L1348.2,400.4 L1350.0,386.1 L1351.8,389.8 L1353.7,392.9 L1355.5,381.5 L1357.3,392.5 L1359.1,412.4 L1360.9,404.4 L1362.7,407.2 L1364.5,407.2 L1366.3,407.5 L1368.2,407.9 L1370.0,413.6 L1371.8,422.6 L1373.6,411.7 L1375.4,401.9 L1377.2,404.0 L1379.0,403.4 L1380.8,398.9 L1382.7,406.1 L1384.5,414.9 L1386.3,418.1 L1388.1,419.0 L1389.9,407.2 L1391.7,416.1 L1393.5,418.4 L1395.3,414.4 L1397.2,422.5 L1399.0,438.3 L1400.8,439.6 L1402.6,432.5 L1404.4,436.9 L1406.2,445.0 L1408.0,451.8 L1409.8,435.4 L1411.7,440.6 L1413.5,444.4 L1415.3,451.4 L1417.1,456.8 L1418.9,462.4 L1420.7,462.4 L1422.5,454.6 L1424.3,454.5 L1426.2,453.6 L1428.0,471.6 L1429.8,472.7 L1431.6,464.1 L1433.4,472.9 L1435.2,469.3 L1437.0,470.1 L1438.8,485.0 L1440.7,487.0 L1442.5,478.6 L1444.3,491.6 L1446.1,486.2 L1447.9,491.7 L1449.7,482.0 L1451.5,484.1 L1453.3,485.7 L1455.2,487.8 L1457.0,494.0 L1458.8,500.7 L1460.6,497.1 L1462.4,497.2 L1464.2,500.1 L1466.0,506.8 L1467.8,509.7 L1469.7,504.8 L1471.5,504.4 L1473.3,516.1 L1475.1,527.0 L1476.9,529.7 L1478.7,529.9 L1480.5,522.8 L1482.3,526.0 L1484.2,533.0 L1486.0,537.1 L1487.8,542.3 L1489.6,542.0 L1491.4,551.7 L1493.2,552.8 L1495.0,547.4 L1496.8,548.7 L1498.7,554.3 L1500.5,567.3 L1502.3,569.5 L1504.1,562.3 L1505.9,567.4 L1507.7,567.1 L1509.5,576.5 L1511.3,580.7 L1513.2,585.8 L1515.0,585.2 L1516.8,596.4 L1518.6,594.2 L1520.4,594.6 L1522.2,606.5 L1524.0,614.3 L1525.8,616.0 L1527.7,621.2 L1529.5,621.1 L1531.3,625.2 L1533.1,630.5 L1534.9,632.1 L1536.7,631.9 L1538.5,639.3 L1540.3,641.2 L1542.2,644.1 L1544.0,651.9 L1545.8,655.0 L1547.6,654.3 L1549.4,663.0 L1551.2,671.3 L1553.0,674.3 L1554.8,679.9 L1556.7,681.7 L1558.5,684.2 L1560.3,688.5 L1562.1,688.7 L1563.9,690.1 L1565.7,696.4 L1567.5,702.3 L1569.3,706.4 L1571.2,709.1 L1573.0,711.2 L1574.8,716.5 L1576.6,726.4 L1578.4,728.7 L1580.2,732.8 L1582.0,734.8 L1583.8,736.6 L1585.7,737.0 L1587.5,742.3 L1589.3,747.6 L1591.1,752.7 L1592.9,755.3 L1594.7,757.5 L1596.5,763.6 L1598.3,766.0 L1600.1,763.4 L1602.0,766.4 L1603.8,776.4 L1605.6,783.6 L1607.4,786.3 L1609.2,787.4 L1611.0,789.7 L1612.8,791.9 L1614.6,794.2 L1616.5,798.7 L1618.3,803.8 L1620.1,807.9 L1621.9,810.5 L1623.7,814.3 L1625.5,819.4 L1627.3,820.0 L1629.1,820.6 L1631.0,824.1 L1632.8,828.5 L1634.6,833.3 L1636.4,837.8 L1638.2,839.8 L1640.0,844.3 L1641.8,846.4 L1643.6,849.7 L1645.5,854.3 L1647.3,859.9 L1649.1,861.6 L1650.9,862.3 L1652.7,866.6 L1654.5,874.5 L1656.3,877.8 L1658.1,881.2 L1660.0,886.5 L1661.8,893.2 L1663.6,895.9 L1665.4,896.3 L1667.2,903.6 L1669.0,908.5 L1670.8,912.0 L1672.6,915.1 L1674.5,919.8 L1676.3,925.8 L1678.1,933.2 L1679.9,933.3 L1681.7,934.9 L1683.5,941.1 L1685.3,946.5 L1687.1,948.1 L1689.0,949.0 L1690.8,957.5 L1692.6,962.6 L1694.4,966.7 L1696.2,969.3 L1698.0,970.5 L1699.8,973.8 L1701.6,979.6 L1703.5,984.7 L1705.3,987.8 L1707.1,990.8 L1708.9,997.5 L1710.7,1001.5 L1712.5,1004.8 L1714.3,1010.5 L1716.1,1015.8 L1718.0,1021.1 L1719.8,1023.2 L1721.6,1024.9 L1723.4,1029.8 L1725.2,1031.7 L1727.0,1034.3 L1728.8,1040.4 L1730.6,1045.9 L1732.5,1052.8 L1734.3,1059.3 L1736.1,1060.8 L1737.9,1063.5 L1739.7,1063.4 L1741.5,1067.0 L1743.3,1075.1 L1745.1,1076.5 L1747.0,1080.2 L1748.8,1079.9 L1750.6,1083.4 L1752.4,1090.3 L1754.2,1094.6 L1756.0,1096.2 L1757.8,1098.8 L1759.6,1103.9 L1761.5,1108.4 L1763.3,1112.6 L1765.1,1116.5 L1766.9,1121.6 L1768.7,1123.8 L1770.5,1128.4 L1772.3,1133.6 L1774.1,1135.0 L1776.0,1138.0 L1777.8,1142.4 L1779.6,1144.5 L1781.4,1147.7 L1783.2,1153.5 L1785.0,1158.0 L1786.8,1159.1 L1788.6,1162.2 L1790.5,1168.6 L1792.3,1172.5 L1794.1,1175.6 L1795.9,1175.9 L1797.7,1178.1 L1799.5,1181.9 L1801.3,1188.6 L1803.1,1191.3 L1805.0,1193.2 L1806.8,1198.2 L1808.6,1199.9 L1810.4,1203.2 L1812.2,1206.1 L1814.0,1209.1 L1815.8,1210.7 L1817.6,1213.7 L1819.5,1214.1 L1821.3,1215.3 L1823.1,1221.9 L1824.9,1226.4 L1826.7,1228.9 L1828.5,1228.5 L1830.3,1233.5 L1832.1,1235.8 L1834.0,1240.5 L1835.8,1241.3 L1837.6,1241.7 L1839.4,1244.7 L1841.2,1246.9 L1843.0,1248.6 L1844.8,1251.0 L1846.6,1253.0 L1848.5,1257.0 L1850.3,1257.8 L1852.1,1261.3 L1853.9,1263.1 L1855.7,1265.4 L1857.5,1268.6 L1859.3,1272.2 L1861.1,1272.3 L1863.0,1274.7 L1864.8,1278.0 L1866.6,1279.7 L1868.4,1283.9 L1870.2,1284.4 L1872.0,1287.9 L1873.8,1293.7 L1875.6,1293.9 L1877.5,1296.1 L1879.3,1298.9 L1881.1,1304.1 L1882.9,1306.4 L1884.7,1308.8 L1886.5,1312.2 L1888.3,1316.9 L1890.1,1318.6 L1892.0,1322.2 L1893.8,1323.1 L1895.6,1326.2 L1897.4,1329.3 L1899.2,1333.7 L1901.0,1335.6 L1902.8,1337.2 L1904.6,1339.4 L1906.5,1337.3 L1908.3,1340.1 L1910.1,1346.8 L1911.9,1348.5 L1913.7,1351.3 L1915.5,1353.2 L1917.3,1357.4 L1919.1,1358.2 L1921.0,1360.3 L1922.8,1361.1 L1924.6,1361.2 L1926.4,1365.9 L1928.2,1368.1 L1930.0,1370.2 L1931.8,1372.5 L1933.6,1372.8 L1935.5,1380.0 L1937.3,1383.5 L1939.1,1383.5 L1940.9,1383.7 L1942.7,1386.3 L1944.5,1389.9 L1946.3,1395.9 L1948.1,1396.9 L1950.0,1398.3 L1951.8,1399.6 L1953.6,1401.3 L1955.4,1401.1 L1957.2,1401.8 L1959.0,1406.1 L1960.8,1408.9 L1962.6,1406.6 L1964.5,1405.2 L1966.3,1409.4 L1968.1,1413.3 L1969.9,1417.3 L1971.7,1415.7 L1973.5,1415.9 L1975.3,1422.2 L1977.1,1422.4 L1979.0,1427.2 L1980.8,1423.6 L1982.6,1422.7 L1984.4,1428.8 L1986.2,1428.0 L1988.0,1427.9 L1989.8,1432.5 L1991.6,1432.3 L1993.5,1433.9 L1995.3,1436.8 L1997.1,1435.9 L1998.9,1442.6 L2000.7,1443.1 L2002.5,1446.6 L2004.3,1446.2 L2006.1,1447.0 L2007.9,1449.1 L2009.8,1448.8 L2011.6,1449.3 L2013.4,1451.6 L2015.2,1451.7 L2017.0,1450.6 L2018.8,1452.2 L2020.6,1453.3 L2022.4,1458.6 L2024.3,1459.8 L2026.1,1458.8 L2027.9,1461.2 L2029.7,1459.9 L2031.5,1460.7 L2033.3,1463.1 L2035.1,1462.6 L2036.9,1461.3 L2038.8,1461.9 L2040.6,1463.7 L2042.4,1468.8 L2044.2,1470.8 L2046.0,1469.3 L2047.8,1469.4 L2049.6,1471.9 L2051.4,1475.0 L2053.3,1473.6 L2055.1,1476.8 L2056.9,1476.2 L2058.7,1473.7 L2060.5,1473.9 L2062.3,1474.2 L2064.1,1475.0 L2065.9,1477.8 L2067.8,1481.2 L2069.6,1486.0 L2071.4,1482.5 L2073.2,1486.5 L2075.0,1487.4 L2076.8,1484.8 L2078.6,1489.0 L2080.4,1491.1 L2082.3,1493.9 L2084.1,1494.4 L2085.9,1494.0 L2087.7,1493.4 L2089.5,1491.2 L2091.3,1493.6 L2093.1,1493.1 L2094.9,1493.1 L2096.8,1490.5 L2098.6,1490.7 L2100.4,1493.9 L2102.2,1495.5 L2104.0,1495.4 L2105.8,1497.1 L2107.6,1497.8 L2109.4,1498.1 L2111.3,1500.0 L2113.1,1503.7 L2114.9,1504.6 L2116.7,1502.2 L2118.5,1502.1 L2120.3,1501.6 L2122.1,1505.6 L2123.9,1503.3 L2125.8,1503.3 L2127.6,1504.5 L2129.4,1500.6 L2131.2,1506.5 L2133.0,1507.8 L2134.8,1505.6 L2136.6,1502.8 L2138.4,1505.9 L2140.3,1506.0 L2142.1,1512.3 L2143.9,1513.4 L2145.7,1510.3 L2147.5,1509.8 L2149.3,1512.7 L2151.1,1513.4 L2152.9,1513.2 L2154.8,1513.8 L2156.6,1514.4 L2158.4,1514.3 L2160.2,1512.6 L2162.0,1511.8 L2163.8,1513.4 L2165.6,1513.8 L2167.4,1514.9 L2169.3,1519.8 L2171.1,1521.9 L2172.9,1524.2 L2174.7,1522.5 L2176.5,1522.3 L2178.3,1520.2 L2180.1,1521.2 L2181.9,1520.5 L2183.8,1518.8 L2185.6,1520.7 L2187.4,1522.4 L2189.2,1526.4 L2191.0,1524.9 L2192.8,1525.1 L2194.6,1525.5 L2196.4,1528.9 L2198.3,1528.0 L2200.1,1523.5 L2201.9,1526.5 L2203.7,1529.0 L2205.5,1528.1 L2207.3,1525.7 L2209.1,1528.0 L2210.9,1525.1 L2212.8,1523.9 L2214.6,1527.1 L2216.4,1525.5 L2218.2,1527.5 L2220.0,1527.1 L2221.8,1534.2 L2223.6,1534.2 L2225.4,1531.3 L2227.3,1531.1 L2229.1,1533.6 L2230.9,1534.8 L2232.7,1535.2 L2234.5,1533.6 L2236.3,1529.8 L2238.1,1527.0 L2239.9,1528.0 L2241.8,1531.3 L2243.6,1533.6 L2245.4,1537.3 L2247.2,1531.2 L2249.0,1530.1 L2250.8,1535.3 L2252.6,1537.0 L2254.4,1537.2 L2256.3,1532.4 L2258.1,1532.4 L2259.9,1536.6 L2261.7,1534.5 L2263.5,1533.3 L2265.3,1534.3 L2267.1,1536.2 L2268.9,1535.2 L2270.8,1539.4 L2272.6,1540.5 L2274.4,1534.6 L2276.2,1533.5 L2278.0,1532.6 L2279.8,1535.4 L2281.6,1538.4 L2283.4,1537.6 L2285.3,1536.8 L2287.1,1537.0 L2288.9,1534.2 L2290.7,1531.7 L2292.5,1531.9 L2294.3,1534.1 L2296.1,1538.7 L2297.9,1538.9 L2299.8,1538.0 L2301.6,1541.4 L2303.4,1541.9 L2305.2,1544.1 L2307.0,1544.2 L2308.8,1536.3 L2310.6,1532.7 L2312.4,1534.8 L2314.3,1535.6 L2316.1,1541.1 L2317.9,1540.2 L2319.7,1539.0 L2321.5,1542.5 L2323.3,1544.8 L2325.1,1541.2 L2326.9,1538.4 L2328.8,1537.4 L2330.6,1539.4 L2332.4,1544.5 L2334.2,1544.0 L2336.0,1540.7 L2337.8,1542.2 L2339.6,1538.9 L2341.4,1538.9 L2343.3,1542.2 L2345.1,1547.2 L2346.9,1543.0 L2348.7,1538.6 L2350.5,1538.9 L2352.3,1539.5 L2354.1,1541.4 L2355.9,1541.9 L2357.8,1540.3 L2359.6,1541.8 L2361.4,1543.9 L2363.2,1538.5 L2365.0,1540.0 L2366.8,1543.7 L2368.6,1538.8 L2370.4,1537.8 L2372.3,1544.7 L2374.1,1540.6 L2375.9,1535.3 L2377.7,1537.1 L2379.5,1545.3 L2381.3,1548.8 L2383.1,1550.4 L2384.9,1545.0 L2386.8,1548.1 L2388.6,1546.8 L2390.4,1542.4 L2392.2,1548.7 L2394.0,1549.6 L2395.8,1546.3 L2397.6,1543.7 L2399.4,1542.5 L2401.3,1539.9 L2403.1,1545.2 L2404.9,1543.2 L2406.7,1543.9 L2408.5,1544.4"/>
<path stroke="#0000ff" d="M369.5,1129.5 L371.3,1132.1 L373.1,1124.3 L374.9,1111.0 L376.7,1128.1 L378.6,1144.6 L380.4,1147.1 L382.2,1131.7 L384.0,1141.6 L385.8,1126.5 L387.6,1130.6 L389.4,1139.1 L391.2,1129.4 L393.1,1124.3 L394.9,1134.8 L396.7,1134.4 L398.5,1126.8 L400.3,1141.7 L402.1,1128.9 L403.9,1114.7 L405.7,1116.2 L407.6,1136.9 L409.4,1117.0 L411.2,1106.0 L413.0,1123.5 L414.8,1105.7 L416.6,1099.3 L418.4,1115.8 L420.2,1101.8 L422.1,1111.1 L423.9,1089.2 L425.7,1086.0 L427.5,1113.5 L429.3,1117.0 L431.1,1109.2 L432.9,1112.6 L434.7,1100.9 L436.6,1111.5 L438.4,1109.6 L440.2,1098.4 L442.0,1098.4 L443.8,1091.5 L445.6,1096.9 L447.4,1090.0 L449.2,1089.4 L451.1,1084.6 L452.9,1088.3 L454.7,1079.7 L456.5,1096.1 L458.3,1096.3 L460.1,1088.5 L461.9,1089.1 L463.7,1072.0 L465.6,1077.4 L467.4,1068.9 L469.2,1091.1 L471.0,1091.9 L472.8,1074.5 L474.6,1083.1 L476.4,1076.4 L478.2,1084.8 L480.1,1078.2 L481.9,1071.4 L483.7,1081.8 L485.5,1090.9 L487.3,1077.9 L489.1,1066.3 L490.9,1066.1 L492.7,1069.1 L494.6,1072.9 L496.4,1069.0 L498.2,1067.8 L500.0,1080.7 L501.8,1062.9 L503.6,1074.0 L505.4,1086.9 L507.2,1071.7 L509.1,1053.8 L510.9,1047.1 L512.7,1068.4 L514.5,1063.9 L516.3,1056.2 L518.1,1052.8 L519.9,1057.4 L521.7,1057.5 L523.6,1061.4 L525.4,1063.2 L527.2,1060.9 L529.0,1059.0 L530.8,1052.8 L532.6,1054.8 L534.4,1047.4 L536.2,1043.8 L538.1,1034.0 L539.9,1046.8 L541.7,1053.7 L543.5,1052.5 L545.3,1058.6 L547.1,1053.3 L548.9,1054.0 L550.7,1043.0 L552.6,1038.9 L554.4,1041.4 L556.2,1031.3 L558.0,1030.5 L559.8,1039.5 L561.6,1046.5 L563.4,1045.0 L565.2,1037.7 L567.1,1031.1 L568.9,1035.0 L570.7,1040.2 L572.5,1039.9 L574.3,1027.2 L576.1,1029.2 L577.9,1035.9 L579.7,1037.5 L581.6,1028.2 L583.4,1029.5 L585.2,1038.2 L587.0,1044.5 L588.8,1039.2 L590.6,1020.0 L592.4,1018.9 L594.2,1028.9 L596.1,1020.1 L597.9,1009.6 L599.7,991.8 L601.5,1010.7 L603.3,1021.4 L605.1,1017.0 L606.9,1002.2 L608.7,998.0 L610.6,1002.6 L612.4,986.6 L614.2,982.5 L616.0,994.4 L617.8,998.4 L619.6,997.8 L621.4,1004.1 L623.2,994.2 L625.1,1000.8 L626.9,999.7 L628.7,985.7 L630.5,986.6 L632.3,989.6 L634.1,994.2 L635.9,984.8 L637.7,979.0 L639.6,975.3 L641.4,971.3 L643.2,975.2 L645.0,980.6 L646.8,967.9 L648.6,963.2 L650.4,957.5 L652.2,961.4 L654.1,980.3 L655.9,978.9 L657.7,963.3 L659.5,966.3 L661.3,974.0 L663.1,957.9 L664.9,940.5 L666.7,936.6 L668.6,950.6 L670.4,943.9 L672.2,933.7 L674.0,935.0 L675.8,929.2 L677.6,929.7 L679.4,917.7 L681.2,916.9 L683.1,921.1 L684.9,921.1 L686.7,925.2 L688.5,928.4 L690.3,914.5 L692.1,907.9 L693.9,908.3 L695.7,913.8 L697.6,915.8 L699.4,922.3 L701.2,922.2 L703.0,925.7 L704.8,911.0 L706.6,911.2 L708.4,903.7 L710.2,901.4 L712.1,892.0 L713.9,883.2 L715.7,879.8 L717.5,884.8 L719.3,892.2 L721.1,896.5 L722.9,899.6 L724.7,883.3 L726.6,877.5 L728.4,882.5 L730.2,868.1 L732.0,882.4 L733.8,889.2 L735.6,879.7 L737.4,869.8 L739.2,875.0 L741.1,875.2 L742.9,866.6 L744.7,873.3 L746.5,863.5 L748.3,861.8 L750.1,867.6 L751.9,862.0 L753.7,865.5 L755.6,870.7 L757.4,854.9 L759.2,858.7 L761.0,862.0 L762.8,842.1 L764.6,830.6 L766.4,833.0 L768.2,839.3 L770.1,843.2 L771.9,842.1 L773.7,854.3 L775.5,864.9 L777.3,842.5 L779.1,828.6 L780.9,825.1 L782.7,832.0 L784.5,832.1 L786.4,834.5 L788.2,836.8 L790.0,828.7 L791.8,815.1 L793.6,816.1 L795.4,815.7 L797.2,817.4 L799.0,812.6 L800.9,803.1 L802.7,817.3 L804.5,814.5 L806.3,818.1 L808.1,813.3 L809.9,811.5 L811.7,799.2 L813.5,805.7 L815.4,804.0 L817.2,796.7 L819.0,800.2 L820.8,802.1 L822.6,795.4 L824.4,787.5 L826.2,791.3 L828.0,777.6 L829.9,774.1 L831.7,780.4 L833.5,791.7 L835.3,796.4 L837.1,787.0 L838.9,770.5 L840.7,771.5 L842.5,764.2 L844.4,758.7 L846.2,769.7 L848.0,769.4 L849.8,756.0 L851.6,763.1 L853.4,769.2 L855.2,767.2 L857.0,762.0 L858.9,754.7 L860.7,744.9 L862.5,745.5 L864.3,744.4 L866.1,745.7 L867.9,731.8 L869.7,742.4 L871.5,750.0 L873.4,755.5 L875.2,753.6 L877.0,745.5 L878.8,743.7 L880.6,737.4 L882.4,733.0 L884.2,740.4 L886.0,745.9 L887.9,725.8 L889.7,725.6 L891.5,727.7 L893.3,712.1 L895.1,703.3 L896.9,713.5 L898.7,723.2 L900.5,705.7 L902.4,709.9 L904.2,709.8 L906.0,709.3 L907.8,705.6 L909.6,692.7 L911.4,696.0 L913.2,690.2 L915.0,687.0 L916.9,678.3 L918.7,685.8 L920.5,684.0 L922.3,692.8 L924.1,696.3 L925.9,689.0 L927.7,682.7 L929.5,682.3 L931.4,675.6 L933.2,683.0 L935.0,686.5 L936.8,682.2 L938.6,666.8 L940.4,669.5 L942.2,676.1 L944.0,680.4 L945.9,675.1 L947.7,660.5 L949.5,660.7 L951.3,660.0 L953.1,673.0 L954.9,679.9 L956.7,673.0 L958.5,656.6 L960.4,647.2 L962.2,648.5 L964.0,648.5 L965.8,649.6 L967.6,658.9 L969.4,653.2 L971.2,650.5 L973.0,653.7 L974.9,637.9 L976.7,639.6 L978.5,638.7 L980.3,637.8 L982.1,636.9 L983.9,635.9 L985.7,635.0 L987.5,634.1 L989.4,633.2 L991.2,632.2 L993.0,631.3 L994.8,630.4 L996.6,629.5 L998.4,628.5 L1000.2,627.6 L1002.0,626.7 L1003.9,625.8 L1005.7,624.8 L1007.5,623.9 L1009.3,623.0 L1011.1,622.1 L1012.9,621.1 L1014.7,620.2 L1016.5,619.3 L1018.4,618.4 L1020.2,617.4 L1022.0,616.5 L1023.8,615.6 L1025.6,614.7 L1027.4,613.8 L1029.2,612.8 L1031.0,591.6 L1032.9,594.8 L1034.7,578.5 L1036.5,588.2 L1038.3,584.1 L1040.1,578.5 L1041.9,581.1 L1043.7,583.2 L1045.5,580.8 L1047.4,570.3 L1049.2,564.1 L1051.0,563.8 L1052.8,575.8 L1054.6,566.4 L1056.4,559.8 L1058.2,559.7 L1060.0,570.2 L1061.9,566.2 L1063.7,548.2 L1065.5,552.6 L1067.3,555.8 L1069.1,555.5 L1070.9,543.0 L1072.7,546.1 L1074.5,552.7 L1076.4,561.2 L1078.2,560.9 L1080.0,542.6 L1081.8,545.2 L1083.6,554.7 L1085.4,556.6 L1087.2,553.9 L1089.0,542.7 L1090.9,536.4 L1092.7,536.0 L1094.5,542.0 L1096.3,537.5 L1098.1,524.8 L1099.9,517.4 L1101.7,519.6 L1103.5,523.7 L1105.4,528.4 L1107.2,514.8 L1109.0,513.5 L1110.8,514.6 L1112.6,516.0 L1114.4,513.3 L1116.2,515.1 L1118.0,510.7 L1119.9,509.7 L1121.7,500.3 L1123.5,495.5 L1125.3,504.7 L1127.1,507.5 L1128.9,510.0 L1130.7,500.9 L1132.5,483.8 L1134.4,486.9 L1136.2,479.2 L1138.0,493.3 L1139.8,500.1 L1141.6,492.8 L1143.4,494.9 L1145.2,479.8 L1147.0,475.4 L1148.9,481.6 L1150.7,474.4 L1152.5,463.6 L1154.3,457.7 L1156.1,470.0 L1157.9,465.1 L1159.7,465.1 L1161.5,468.3 L1163.4,471.0 L1165.2,472.6 L1167.0,477.3 L1168.8,471.8 L1170.6,456.9 L1172.4,452.0 L1174.2,464.3 L1176.0,471.6 L1177.9,460.3 L1179.7,453.1 L1181.5,451.2 L1183.3,462.4 L1185.1,471.1 L1186.9,463.0 L1188.7,460.6 L1190.5,449.9 L1192.3,466.2 L1194.2,466.4 L1196.0,463.8 L1197.8,469.5 L1199.6,451.7 L1201.4,448.1 L1203.2,441.1 L1205.0,443.8 L1206.8,442.5 L1208.7,444.4 L1210.5,450.3 L1212.3,446.0 L1214.1,446.8 L1215.9,441.7 L1217.7,443.4 L1219.5,449.0 L1221.3,448.0 L1223.2,447.5 L1225.0,445.3 L1226.8,439.9 L1228.6,442.3 L1230.4,429.6 L1232.2,419.5 L1234.0,430.7 L1235.8,435.1 L1237.7,447.3 L1239.5,438.4 L1241.3,437.8 L1243.1,429.5 L1244.9,433.5 L1246.7,431.6 L1248.5,433.2 L1250.3,439.9 L1252.2,451.8 L1254.0,449.4 L1255.8,447.0 L1257.6,429.0 L1259.4,427.3 L1261.2,436.4 L1263.0,438.6 L1264.8,430.4 L1266.7,421.4 L1268.5,412.8 L1270.3,419.8 L1272.1,428.7 L1273.9,428.6 L1275.7,424.3 L1277.5,433.9 L1279.3,438.5 L1281.2,430.0 L1283.0,422.7 L1284.8,433.6 L1286.6,423.7 L1288.4,426.8 L1290.2,435.1 L1292.0,445.2 L1293.8,449.8 L1295.7,443.0 L1297.5,434.6 L1299.3,432.1 L1301.1,440.4 L1302.9,445.8 L1304.7,441.5 L1306.5,431.9 L1308.3,445.8 L1310.2,449.2 L1312.0,437.6 L1313.8,447.7 L1315.6,441.2 L1317.4,442.0 L1319.2,435.5 L1321.0,431.1 L1322.8,441.7 L1324.7,451.0 L1326.5,447.9 L1328.3,443.3 L1330.1,450.1 L1331.9,452.8 L1333.7,448.1 L1335.5,449.4 L1337.3,448.5 L1339.2,450.3 L1341.0,446.6 L1342.8,456.4 L1344.6,464.7 L1346.4,457.1 L1348.2,449.9 L1350.0,458.6 L1351.8,465.1 L1353.7,468.3 L1355.5,469.5 L1357.3,462.4 L1359.1,454.2 L1360.9,472.8 L1362.7,471.6 L1364.5,468.0 L1366.3,474.7 L1368.2,470.5 L1370.0,465.1 L1371.8,459.2 L1373.6,460.3 L1375.4,474.2 L1377.2,470.4 L1379.0,476.1 L1380.8,487.3 L1382.7,482.3 L1384.5,467.0 L1386.3,473.7 L1388.1,478.0 L1389.9,484.0 L1391.7,488.1 L1393.5,488.3 L1395.3,484.1 L1397.2,477.8 L1399.0,489.8 L1400.8,500.0 L1402.6,487.7 L1404.4,480.3 L1406.2,484.7 L1408.0,499.1 L1409.8,516.1 L1411.7,516.1 L1413.5,506.8 L1415.3,487.3 L1417.1,503.5 L1418.9,505.5 L1420.7,496.1 L1422.5,496.4 L1424.3,499.3 L1426.2,507.7 L1428.0,500.3 L1429.8,505.8 L1431.6,521.7 L1433.4,519.5 L1435.2,530.9 L1437.0,529.8 L1438.8,532.7 L1440.7,533.9 L1442.5,533.2 L1444.3,536.1 L1446.1,537.1 L1447.9,537.6 L1449.7,530.3 L1451.5,542.5 L1453.3,543.5 L1455.2,547.7 L1457.0,549.3 L1458.8,547.4 L1460.6,538.2 L1462.4,546.0 L1464.2,551.5 L1466.0,559.3 L1467.8,567.2 L1469.7,566.9 L1471.5,571.6 L1473.3,575.7 L1475.1,567.1 L1476.9,565.5 L1478.7,571.7 L1480.5,574.9 L1482.3,580.8 L1484.2,592.4 L1486.0,589.3 L1487.8,594.7 L1489.6,591.3 L1491.4,597.9 L1493.2,599.4 L1495.0,595.1 L1496.8,608.4 L1498.7,622.4 L1500.5,626.9 L1502.3,625.6 L1504.1,620.5 L1505.9,621.3 L1507.7,624.2 L1509.5,628.1 L1511.3,633.4 L1513.2,645.1 L1515.0,651.5 L1516.8,647.4 L1518.6,648.4 L1520.4,656.9 L1522.2,662.3 L1524.0,661.2 L1525.8,658.2 L1527.7,663.3 L1529.5,668.2 L1531.3,674.1 L1533.1,679.7 L1534.9,677.7 L1536.7,675.5 L1538.5,679.9 L1540.3,683.1 L1542.2,690.2 L1544.0,695.1 L1545.8,695.7 L1547.6,701.2 L1549.4,705.7 L1551.2,704.9 L1553.0,711.4 L1554.8,717.2 L1556.7,716.5 L1558.5,721.0 L1560.3,727.5 L1562.1,728.7 L1563.9,731.4 L1565.7,735.1 L1567.5,740.0 L1569.3,745.4 L1571.2,749.1 L1573.0,748.7 L1574.8,751.9 L1576.6,758.4 L1578.4,762.9 L1580.2,767.1 L1582.0,774.2 L1583.8,779.2 L1585.7,781.3 L1587.5,784.2 L1589.3,787.0 L1591.1,791.2 L1592.9,795.3 L1594.7,799.1 L1596.5,801.4 L1598.3,806.3 L1600.1,809.8 L1602.0,815.4 L1603.8,816.0 L1605.6,817.1 L1607.4,821.1 L1609.2,824.0 L1611.0,826.9 L1612.8,831.6 L1614.6,833.6 L1616.5,836.0 L1618.3,836.9 L1620.1,841.7 L1621.9,844.4 L1623.7,847.6 L1625.5,845.7 L1627.3,850.0 L1629.1,855.3 L1631.0,855.6 L1632.8,858.3 L1634.6,862.8 L1636.4,869.0 L1638.2,871.5 L1640.0,875.1 L1641.8,876.3 L1643.6,881.3 L1645.5,887.0 L1647.3,888.4 L1649.1,889.8 L1650.9,892.5 L1652.7,897.8 L1654.5,898.8 L1656.3,903.4 L1658.1,908.8 L1660.0,914.1 L1661.8,922.0 L1663.6,922.7 L1665.4,924.6 L1667.2,929.7 L1669.0,935.5 L1670.8,941.2 L1672.6,946.0 L1674.5,950.1 L1676.3,955.7 L1678.1,958.5 L1679.9,965.1 L1681.7,965.4 L1683.5,965.9 L1685.3,969.2 L1687.1,975.8 L1689.0,978.8 L1690.8,983.7 L1692.6,991.1 L1694.4,995.1 L1696.2,998.0 L1698.0,1001.1 L1699.8,1005.3 L1701.6,1010.2 L1703.5,1012.9 L1705.3,1016.0 L1707.1,1018.7 L1708.9,1024.1 L1710.7,1027.5 L1712.5,1030.9 L1714.3,1036.1 L1716.1,1041.5 L1718.0,1042.5 L1719.8,1047.8 L1721.6,1052.5 L1723.4,1054.6 L1725.2,1058.6 L1727.0,1060.3 L1728.8,1066.1 L1730.6,1069.7 L1732.5,1074.4 L1734.3,1078.3 L1736.1,1081.8 L1737.9,1088.2 L1739.7,1092.4 L1741.5,1092.1 L1743.3,1095.3 L1745.1,1101.3 L1747.0,1103.8 L1748.8,1107.6 L1750.6,1109.7 L1752.4,1111.6 L1754.2,1116.7 L1756.0,1121.5 L1757.8,1127.8 L1759.6,1129.6 L1761.5,1130.3 L1763.3,1132.5 L1765.1,1138.7 L1766.9,1142.3 L1768.7,1143.7 L1770.5,1146.8 L1772.3,1153.0 L1774.1,1154.2 L1776.0,1158.1 L1777.8,1163.1 L1779.6,1167.4 L1781.4,1168.8 L1783.2,1170.8 L1785.0,1174.7 L1786.8,1178.7 L1788.6,1181.9 L1790.5,1180.1 L1792.3,1183.4 L1794.1,1185.4 L1795.9,1189.5 L1797.7,1194.3 L1799.5,1199.2 L1801.3,1202.9 L1803.1,1202.8 L1805.0,1207.5 L1806.8,1210.2 L1808.6,1213.6 L1810.4,1214.8 L1812.2,1216.3 L1814.0,1221.3 L1815.8,1223.2 L1817.6,1226.4 L1819.5,1228.3 L1821.3,1232.5 L1823.1,1235.8 L1824.9,1237.9 L1826.7,1241.4 L1828.5,1244.3 L1830.3,1245.5 L1832.1,1247.4 L1834.0,1249.0 L1835.8,1254.2 L1837.6,1256.3 L1839.4,1256.8 L1841.2,1259.3 L1843.0,1262.0 L1844.8,1262.3 L1846.6,1266.1 L1848.5,1269.4 L1850.3,1271.4 L1852.1,1273.1 L1853.9,1276.3 L1855.7,1278.9 L1857.5,1280.7 L1859.3,1283.3 L1861.1,1283.4 L1863.0,1285.5 L1864.8,1289.4 L1866.6,1292.5 L1868.4,1294.9 L1870.2,1298.2 L1872.0,1303.4 L1873.8,1308.2 L1875.6,1310.0 L1877.5,1310.2 L1879.3,1310.0 L1881.1,1314.7 L1882.9,1318.7 L1884.7,1322.9 L1886.5,1325.2 L1888.3,1325.9 L1890.1,1328.8 L1892.0,1329.9 L1893.8,1330.9 L1895.6,1331.1 L1897.4,1336.7 L1899.2,1341.2 L1901.0,1342.8 L1902.8,1346.2 L1904.6,1347.3 L1906.5,1350.0 L1908.3,1353.0 L1910.1,1355.6 L1911.9,1357.5 L1913.7,1360.8 L1915.5,1362.5 L1917.3,1363.3 L1919.1,1368.1 L1921.0,1367.6 L1922.8,1368.0 L1924.6,1370.2 L1926.4,1370.8 L1928.2,1373.1 L1930.0,1378.1 L1931.8,1384.4 L1933.6,1385.0 L1935.5,1385.7 L1937.3,1384.9 L1939.1,1388.5 L1940.9,1393.0 L1942.7,1395.6 L1944.5,1396.0 L1946.3,1398.9 L1948.1,1403.5 L1950.0,1401.9 L1951.8,1400.9 L1953.6,1404.5 L1955.4,1406.5 L1957.2,1407.5 L1959.0,1407.9 L1960.8,1410.9 L1962.6,1410.6 L1964.5,1414.9 L1966.3,1420.6 L1968.1,1420.1 L1969.9,1419.2 L1971.7,1419.3 L1973.5,1422.5 L1975.3,1424.3 L1977.1,1425.5 L1979.0,1426.4 L1980.8,1433.3 L1982.6,1434.1 L1984.4,1432.0 L1986.2,1433.7 L1988.0,1435.7 L1989.8,1434.6 L1991.6,1434.4 L1993.5,1438.2 L1995.3,1441.0 L1997.1,1443.0 L1998.9,1444.4 L2000.7,1444.3 L2002.5,1446.9 L2004.3,1448.7 L2006.1,1452.2 L2007.9,1454.0 L2009.8,1453.0 L2011.6,1451.8 L2013.4,1453.6 L2015.2,1454.9 L2017.0,1455.0 L2018.8,1459.9 L2020.6,1463.1 L2022.4,1459.1 L2024.3,1457.8 L2026.1,1459.1 L2027.9,1465.3 L2029.7,1466.8 L2031.5,1466.3 L2033.3,1464.0 L2035.1,1465.9 L2036.9,1468.9 L2038.8,1475.4 L2040.6,1473.3 L2042.4,1470.1 L2044.2,1471.5 L2046.0,1474.1 L2047.8,1471.6 L2049.6,1474.4 L2051.4,1475.5 L2053.3,1476.0 L2055.1,1477.8 L2056.9,1474.5 L2058.7,1476.6 L2060.5,1480.6 L2062.3,1483.9 L2064.1,1486.8 L2065.9,1485.8 L2067.8,1482.9 L2069.6,1485.2 L2071.4,1485.9 L2073.2,1481.2 L2075.0,1482.6 L2076.8,1485.1 L2078.6,1487.5 L2080.4,1490.0 L2082.3,1489.5 L2084.1,1489.1 L2085.9,1487.2 L2087.7,1489.5 L2089.5,1492.4 L2091.3,1490.9 L2093.1,1489.4 L2094.9,1489.7 L2096.8,1491.0 L2098.6,1492.8 L2100.4,1494.3 L2102.2,1491.9 L2104.0,1495.4 L2105.8,1498.3 L2107.6,1498.8 L2109.4,1499.9 L2111.3,1499.2 L2113.1,1500.1 L2114.9,1504.6 L2116.7,1500.8 L2118.5,1504.7 L2120.3,1507.1 L2122.1,1507.1 L2123.9,1504.8 L2125.8,1508.4 L2127.6,1511.0 L2129.4,1512.7 L2131.2,1512.1 L2133.0,1510.6 L2134.8,1508.5 L2136.6,1508.3 L2138.4,1503.5 L2140.3,1504.8 L2142.1,1505.5 L2143.9,1507.6 L2145.7,1512.4 L2147.5,1511.6 L2149.3,1515.7 L2151.1,1517.9 L2152.9,1513.4 L2154.8,1512.6 L2156.6,1513.1 L2158.4,1513.5 L2160.2,1511.8 L2162.0,1512.8 L2163.8,1515.5 L2165.6,1519.5 L2167.4,1518.0 L2169.3,1515.0 L2171.1,1512.5 L2172.9,1517.2 L2174.7,1522.2 L2176.5,1524.4 L2178.3,1527.4 L2180.1,1520.9 L2181.9,1521.2 L2183.8,1522.0 L2185.6,1524.7 L2187.4,1524.9 L2189.2,1522.3 L2191.0,1525.5 L2192.8,1523.0 L2194.6,1521.5 L2196.4,1527.2 L2198.3,1526.6 L2200.1,1527.6 L2201.9,1532.0 L2203.7,1531.0 L2205.5,1530.9 L2207.3,1534.3 L2209.1,1529.8 L2210.9,1524.9 L2212.8,1523.6 L2214.6,1529.8 L2216.4,1530.6 L2218.2,1528.4 L2220.0,1531.8 L2221.8,1532.2 L2223.6,1529.5 L2225.4,1530.2 L2227.3,1532.7 L2229.1,1529.2 L2230.9,1530.8 L2232.7,1533.5 L2234.5,1533.3 L2236.3,1532.6 L2238.1,1535.6 L2239.9,1535.8 L2241.8,1534.4 L2243.6,1535.6 L2245.4,1535.1 L2247.2,1530.4 L2249.0,1531.6 L2250.8,1532.7 L2252.6,1534.3 L2254.4,1533.9 L2256.3,1534.5 L2258.1,1535.8 L2259.9,1534.3 L2261.7,1535.6 L2263.5,1536.1 L2265.3,1532.5 L2267.1,1534.0 L2268.9,1537.9 L2270.8,1534.7 L2272.6,1537.0 L2274.4,1537.7 L2276.2,1537.9 L2278.0,1536.2 L2279.8,1536.4 L2281.6,1537.7 L2283.4,1539.6 L2285.3,1541.2 L2287.1,1542.7 L2288.9,1541.6 L2290.7,1540.9 L2292.5,1539.8 L2294.3,1542.8 L2296.1,1540.0 L2297.9,1541.4 L2299.8,1536.2 L2301.6,1535.2 L2303.4,1536.2 L2305.2,1540.1 L2307.0,1538.2 L2308.8,1533.9 L2310.6,1530.4 L2312.4,1534.5 L2314.3,1533.6 L2316.1,1531.8 L2317.9,1535.8 L2319.7,1539.5 L2321.5,1538.3 L2323.3,1538.0 L2325.1,1544.1 L2326.9,1543.2 L2328.8,1537.1 L2330.6,1532.3 L2332.4,1530.4 L2334.2,1537.4 L2336.0,1537.1 L2337.8,1538.7 L2339.6,1537.7 L2341.4,1535.9 L2343.3,1541.5 L2345.1,1546.0 L2346.9,1547.8 L2348.7,1543.9 L2350.5,1536.9 L2352.3,1542.4 L2354.1,1545.5 L2355.9,1545.4 L2357.8,1542.1 L2359.6,1538.3 L2361.4,1539.0 L2363.2,1539.4 L2365.0,1536.4 L2366.8,1535.2 L2368.6,1538.1 L2370.4,1543.9 L2372.3,1546.6 L2374.1,1541.1 L2375.9,1536.9 L2377.7,1541.1 L2379.5,1542.5 L2381.3,1539.9 L2383.1,1546.9 L2384.9,1544.6 L2386.8,1537.1 L2388.6,1541.9 L2390.4,1545.6 L2392.2,1542.0 L2394.0,1543.6 L2395.8,1548.2 L2397.6,1549.4 L2399.4,1545.1 L2401.3,1547.4 L2403.1,1544.5 L2404.9,1544.5 L2406.7,1536.1 L2408.5,1539.9"/>
<path stroke="#1b7f7f" d="M369.5,1103.5 L371.3,1118.4 L373.1,1132.5 L374.9,1113.7 L376.7,1116.8 L378.6,1109.7 L380.4,1112.3 L382.2,1123.8 L384.0,1113.0 L385.8,1107.3 L387.6,1109.8 L389.4,1125.2 L391.2,1112.2 L393.1,1099.5 L394.9,1088.8 L396.7,1101.4 L398.5,1118.3 L400.3,1112.6 L402.1,1110.0 L403.9,1116.5 L405.7,1115.6 L407.6,1112.7 L409.4,1110.3 L411.2,1088.6 L413.0,1094.8 L414.8,1105.1 L416.6,1101.8 L418.4,1103.3 L420.2,1108.5 L422.1,1090.3 L423.9,1071.0 L425.7,1079.8 L427.5,1092.1 L429.3,1086.3 L431.1,1083.9 L432.9,1091.9 L434.7,1102.6 L436.6,1089.7 L438.4,1085.2 L440.2,1071.7 L442.0,1076.9 L443.8,1069.7 L445.6,1093.0 L447.4,1085.1 L449.2,1100.3 L451.1,1095.8 L452.9,1081.7 L454.7,1089.3 L456.5,1094.4 L458.3,1084.1 L460.1,1075.9 L461.9,1081.7 L463.7,1095.6 L465.6,1081.9 L467.4,1070.4 L469.2,1054.3 L471.0,1057.1 L472.8,1068.4 L474.6,1090.6 L476.4,1064.7 L478.2,1071.1 L480.1,1081.8 L481.9,1068.3 L483.7,1060.7 L485.5,1079.5 L487.3,1067.5 L489.1,1067.0 L490.9,1073.8 L492.7,1075.7 L494.6,1072.0 L496.4,1062.8 L498.2,1054.0 L500.0,1046.6 L501.8,1048.7 L503.6,1055.4 L505.4,1051.9 L507.2,1062.0 L509.1,1060.8 L510.9,1063.0 L512.7,1064.2 L514.5,1054.5 L516.3,1062.0 L518.1,1055.7 L519.9,1064.5 L521.7,1060.8 L523.6,1044.5 L525.4,1041.6 L527.2,1048.6 L529.0,1039.6 L530.8,1033.4 L532.6,1028.0 L534.4,1043.0 L536.2,1047.8 L538.1,1044.8 L539.9,1050.2 L541.7,1047.4 L543.5,1033.8 L545.3,1024.2 L547.1,1035.6 L548.9,1051.2 L550.7,1051.4 L552.6,1054.4 L554.4,1056.4 L556.2,1045.6 L558.0,1023.9 L559.8,1028.0 L561.6,1029.8 L563.4,1033.6 L565.2,1040.7 L567.1,1034.0 L568.9,1022.8 L570.7,1021.5 L572.5,1013.7 L574.3,1018.4 L576.1,1009.2 L577.9,1012.3 L579.7,1024.9 L581.6,1020.5 L583.4,1027.4 L585.2,1025.5 L587.0,1016.8 L588.8,1003.0 L590.6,999.2 L592.4,1007.1 L594.2,1004.5 L596.1,1001.4 L597.9,1007.0 L599.7,1011.8 L601.5,1000.5 L603.3,980.7 L605.1,1000.8 L606.9,1000.3 L608.7,1001.9 L610.6,986.7 L612.4,974.4 L614.2,976.8 L616.0,976.7 L617.8,980.5 L619.6,978.7 L621.4,987.2 L623.2,977.3 L625.1,980.8 L626.9,983.9 L628.7,984.0 L630.5,989.6 L632.3,995.5 L634.1,999.5 L635.9,996.1 L637.7,989.6 L639.6,974.6 L641.4,960.2 L643.2,975.2 L645.0,981.2 L646.8,968.3 L648.6,969.2 L650.4,965.9 L652.2,957.6 L654.1,962.3 L655.9,964.2 L657.7,962.0 L659.5,952.4 L661.3,956.1 L663.1,957.6 L664.9,954.8 L666.7,951.4 L668.6,950.8 L670.4,949.1 L672.2,952.4 L674.0,954.9 L675.8,947.2 L677.6,937.6 L679.4,918.1 L681.2,935.8 L683.1,935.4 L684.9,928.4 L686.7,918.1 L688.5,914.0 L690.3,922.1 L692.1,920.0 L693.9,922.1 L695.7,927.8 L697.6,934.8 L699.4,932.1 L701.2,944.5 L703.0,925.8 L704.8,911.2 L706.6,908.8 L708.4,918.1 L710.2,919.5 L712.1,919.7 L713.9,924.4 L715.7,928.4 L717.5,926.8 L719.3,899.5 L721.1,894.6 L722.9,905.4 L724.7,894.9 L726.6,905.7 L728.4,901.1 L730.2,904.6 L732.0,892.5 L733.8,893.8 L735.6,900.5 L737.4,887.3 L739.2,877.4 L741.1,881.2 L742.9,888.9 L744.7,883.6 L746.5,879.4 L748.3,869.9 L750.1,871.3 L751.9,889.0 L753.7,879.4 L755.6,867.8 L757.4,860.8 L759.2,861.5 L761.0,861.4 L762.8,874.3 L764.6,875.2 L766.4,865.9 L768.2,849.8 L770.1,855.9 L771.9,853.2 L773.7,855.0 L775.5,857.5 L777.3,863.7 L779.1,862.4 L780.9,869.8 L782.7,857.5 L784.5,851.3 L786.4,849.6 L788.2,841.7 L790.0,854.0 L791.8,863.5 L793.6,840.7 L795.4,837.0 L797.2,837.9 L799.0,840.0 L800.9,828.4 L802.7,829.3 L804.5,840.2 L806.3,831.9 L808.1,840.7 L809.9,837.9 L811.7,823.9 L813.5,815.6 L815.4,836.9 L817.2,830.5 L819.0,820.1 L820.8,818.0 L822.6,818.3 L824.4,815.8 L826.2,822.3 L828.0,806.9 L829.9,803.4 L831.7,820.0 L833.5,818.5 L835.3,807.9 L837.1,800.5 L838.9,803.4 L840.7,816.6 L842.5,814.8 L844.4,805.6 L846.2,794.0 L848.0,801.2 L849.8,803.2 L851.6,805.3 L853.4,793.4 L855.2,787.7 L857.0,803.5 L858.9,789.1 L860.7,777.6 L862.5,771.8 L864.3,775.8 L866.1,776.0 L867.9,782.8 L869.7,797.6 L871.5,796.1 L873.4,783.6 L875.2,779.1 L877.0,779.3 L878.8,772.1 L880.6,765.1 L882.4,787.7 L884.2,779.6 L886.0,750.6 L887.9,758.1 L889.7,769.9 L891.5,767.5 L893.3,751.8 L895.1,748.4 L896.9,747.5 L898.7,760.7 L900.5,752.9 L902.4,747.3 L904.2,745.5 L906.0,750.1 L907.8,736.8 L909.6,731.0 L911.4,741.3 L913.2,728.6 L915.0,719.7 L916.9,722.7 L918.7,730.2 L920.5,730.0 L922.3,735.3 L924.1,732.6 L925.9,737.4 L927.7,726.4 L929.5,733.0 L931.4,729.8 L933.2,721.3 L935.0,721.7 L936.8,713.0 L938.6,720.7 L940.4,708.1 L942.2,711.4 L944.0,722.8 L945.9,718.7 L947.7,719.0 L949.5,714.1 L951.3,703.7 L953.1,714.1 L954.9,717.8 L956.7,696.9 L958.5,688.9 L960.4,698.4 L962.2,697.3 L964.0,688.3 L965.8,691.1 L967.6,694.1 L969.4,695.6 L971.2,679.1 L973.0,675.2 L974.9,676.2 L976.7,660.2 L978.5,671.9 L980.3,676.8 L982.1,664.0 L983.9,676.5 L985.7,679.8 L987.5,677.1 L989.4,669.9 L991.2,670.1 L993.0,670.3 L994.8,670.5 L996.6,670.7 L998.4,670.9 L1000.2,671.1 L1002.0,671.3 L1003.9,671.5 L1005.7,671.7 L1007.5,671.9 L1009.3,672.1 L1011.1,672.3 L1012.9,672.5 L1014.7,672.7 L1016.5,672.9 L1018.4,673.1 L1020.2,673.3 L1022.0,673.5 L1023.8,673.7 L1025.6,650.8 L1027.4,632.0 L1029.2,637.3 L1031.0,637.0 L1032.9,632.0 L1034.7,653.7 L1036.5,649.5 L1038.3,651.3 L1040.1,640.9 L1041.9,644.6 L1043.7,640.0 L1045.5,615.9 L1047.4,616.5 L1049.2,613.0 L1051.0,626.8 L1052.8,630.5 L1054.6,622.1 L1056.4,623.7 L1058.2,622.8 L1060.0,617.8 L1061.9,606.5 L1063.7,600.6 L1065.5,591.0 L1067.3,599.0 L1069.1,598.5 L1070.9,600.0 L1072.7,607.6 L1074.5,614.7 L1076.4,610.9 L1078.2,611.5 L1080.0,592.4 L1081.8,582.1 L1083.6,588.2 L1085.4,585.2 L1087.2,586.3 L1089.0,573.8 L1090.9,581.7 L1092.7,582.6 L1094.5,574.3 L1096.3,577.7 L1098.1,571.3 L1099.9,563.3 L1101.7,574.3 L1103.5,576.3 L1105.4,574.3 L1107.2,566.6 L1109.0,550.4 L1110.8,550.6 L1112.6,554.3 L1114.4,568.5 L1116.2,558.5 L1118.0,555.0 L1119.9,552.9 L1121.7,559.1 L1123.5,555.9 L1125.3,548.5 L1127.1,547.9 L1128.9,553.2 L1130.7,551.6 L1132.5,547.6 L1134.4,536.9 L1136.2,539.3 L1138.0,536.6 L1139.8,540.2 L1141.6,538.1 L1143.4,535.6 L1145.2,538.4 L1147.0,537.2 L1148.9,535.3 L1150.7,534.0 L1152.5,528.5 L1154.3,517.2 L1156.1,522.8 L1157.9,518.6 L1159.7,518.2 L1161.5,519.9 L1163.4,513.4 L1165.2,511.9 L1167.0,518.4 L1168.8,512.9 L1170.6,509.6 L1172.4,517.4 L1174.2,505.6 L1176.0,509.3 L1177.9,521.4 L1179.7,515.5 L1181.5,524.2 L1183.3,527.5 L1185.1,517.0 L1186.9,510.6 L1188.7,510.3 L1190.5,513.6 L1192.3,513.4 L1194.2,507.8 L1196.0,507.9 L1197.8,507.1 L1199.6,507.0 L1201.4,508.9 L1203.2,505.1 L1205.0,495.1 L1206.8,500.8 L1208.7,507.6 L1210.5,493.4 L1212.3,498.0 L1214.1,489.8 L1215.9,490.4 L1217.7,493.1 L1219.5,502.6 L1221.3,503.8 L1223.2,505.9 L1225.0,501.1 L1226.8,500.0 L1228.6,495.6 L1230.4,495.1 L1232.2,491.3 L1234.0,493.4 L1235.8,487.2 L1237.7,502.3 L1239.5,497.3 L1241.3,495.1 L1243.1,490.7 L1244.9,489.4 L1246.7,495.4 L1248.5,490.1 L1250.3,474.5 L1252.2,475.5 L1254.0,485.9 L1255.8,478.2 L1257.6,482.4 L1259.4,488.6 L1261.2,487.8 L1263.0,483.2 L1264.8,481.9 L1266.7,483.6 L1268.5,485.1 L1270.3,495.7 L1272.1,494.6 L1273.9,482.6 L1275.7,490.5 L1277.5,487.9 L1279.3,481.0 L1281.2,476.8 L1283.0,475.2 L1284.8,472.5 L1286.6,488.3 L1288.4,486.2 L1290.2,482.2 L1292.0,491.1 L1293.8,487.2 L1295.7,498.5 L1297.5,496.9 L1299.3,493.5 L1301.1,489.0 L1302.9,480.0 L1304.7,493.2 L1306.5,492.3 L1308.3,490.4 L1310.2,487.0 L1312.0,484.0 L1313.8,494.8 L1315.6,505.8 L1317.4,496.9 L1319.2,490.8 L1321.0,488.6 L1322.8,492.2 L1324.7,499.5 L1326.5,500.3 L1328.3,495.8 L1330.1,490.1 L1331.9,485.6 L1333.7,488.6 L1335.5,505.5 L1337.3,500.4 L1339.2,493.6 L1341.0,509.8 L1342.8,513.9 L1344.6,502.4 L1346.4,493.5 L1348.2,504.5 L1350.0,509.5 L1351.8,497.5 L1353.7,501.0 L1355.5,504.1 L1357.3,498.4 L1359.1,508.3 L1360.9,503.3 L1362.7,503.7 L1364.5,518.6 L1366.3,513.0 L1368.2,502.2 L1370.0,504.7 L1371.8,521.6 L1373.6,521.4 L1375.4,526.2 L1377.2,530.6 L1379.0,530.3 L1380.8,521.1 L1382.7,521.5 L1384.5,525.2 L1386.3,543.3 L1388.1,542.0 L1389.9,523.9 L1391.7,521.3 L1393.5,536.7 L1395.3,550.0 L1397.2,543.3 L1399.0,537.7 L1400.8,530.6 L1402.6,528.0 L1404.4,535.5 L1406.2,533.6 L1408.0,533.7 L1409.8,543.1 L1411.7,548.6 L1413.5,544.2 L1415.3,552.0 L1417.1,550.5 L1418.9,545.5 L1420.7,554.5 L1422.5,561.0 L1424.3,554.1 L1426.2,545.0 L1428.0,552.0 L1429.8,566.3 L1431.6,562.7 L1433.4,573.1 L1435.2,568.0 L1437.0,577.9 L1438.8,573.1 L1440.7,576.3 L1442.5,582.0 L1444.3,577.4 L1446.1,568.7 L1447.9,575.2 L1449.7,584.1 L1451.5,592.0 L1453.3,588.0 L1455.2,599.0 L1457.0,592.3 L1458.8,585.2 L1460.6,602.9 L1462.4,608.8 L1464.2,606.3 L1466.0,602.3 L1467.8,600.9 L1469.7,600.5 L1471.5,608.2 L1473.3,612.3 L1475.1,614.8 L1476.9,613.4 L1478.7,613.1 L1480.5,611.7 L1482.3,615.7 L1484.2,619.1 L1486.0,633.0 L1487.8,633.2 L1489.6,632.3 L1491.4,636.4 L1493.2,633.0 L1495.0,633.1 L1496.8,639.9 L1498.7,644.2 L1500.5,647.9 L1502.3,654.6 L1504.1,659.1 L1505.9,655.2 L1507.7,656.9 L1509.5,660.9 L1511.3,666.0 L1513.2,673.5 L1515.0,673.7 L1516.8,672.2 L1518.6,676.8 L1520.4,683.4 L1522.2,682.6 L1524.0,682.1 L1525.8,689.4 L1527.7,693.0 L1529.5,696.9 L1531.3,699.9 L1533.1,705.1 L1534.9,707.3 L1536.7,706.9 L1538.5,710.8 L1540.3,715.9 L1542.2,716.2 L1544.0,720.1 L1545.8,725.1 L1547.6,731.5 L1549.4,733.0 L1551.2,732.4 L1553.0,734.8 L1554.8,736.4 L1556.7,740.5 L1558.5,745.4 L1560.3,753.7 L1562.1,760.7 L1563.9,765.2 L1565.7,765.1 L1567.5,766.5 L1569.3,767.7 L1571.2,771.3 L1573.0,775.3 L1574.8,782.9 L1576.6,782.4 L1578.4,786.1 L1580.2,788.3 L1582.0,793.6 L1583.8,800.2 L1585.7,801.2 L1587.5,806.1 L1589.3,806.6 L1591.1,811.5 L1592.9,813.8 L1594.7,820.3 L1596.5,822.0 L1598.3,827.4 L1600.1,832.3 L1602.0,831.8 L1603.8,834.3 L1605.6,838.8 L1607.4,842.7 L1609.2,846.0 L1611.0,847.8 L1612.8,850.3 L1614.6,855.2 L1616.5,856.5 L1618.3,861.1 L1620.1,863.2 L1621.9,867.3 L1623.7,872.9 L1625.5,876.6 L1627.3,876.6 L1629.1,883.1 L1631.0,884.2 L1632.8,883.3 L1634.6,886.7 L1636.4,892.8 L1638.2,899.9 L1640.0,901.6 L1641.8,902.8 L1643.6,907.3 L1645.5,909.1 L1647.3,912.0 L1649.1,916.7 L1650.9,922.7 L1652.7,927.8 L1654.5,931.2 L1656.3,932.9 L1658.1,933.9 L1660.0,937.0 L1661.8,941.5 L1663.6,943.5 L1665.4,947.2 L1667.2,948.8 L1669.0,953.6 L1670.8,960.3 L1672.6,962.3 L1674.5,965.0 L1676.3,972.2 L1678.1,974.3 L1679.9,979.5 L1681.7,981.8 L1683.5,986.9 L1685.3,990.2 L1687.1,995.9 L1689.0,1004.1 L1690.8,1006.5 L1692.6,1007.4 L1694.4,1012.5 L1696.2,1016.5 L1698.0,1017.4 L1699.8,1021.3 L1701.6,1022.7 L1703.5,1026.4 L1705.3,1032.2 L1707.1,1036.0 L1708.9,1037.6 L1710.7,1042.8 L1712.5,1048.7 L1714.3,1053.4 L1716.1,1053.5 L1718.0,1058.4 L1719.8,1063.6 L1721.6,1064.3 L1723.4,1068.8 L1725.2,1072.7 L1727.0,1076.0 L1728.8,1078.2 L1730.6,1082.1 L1732.5,1087.4 L1734.3,1088.6 L1736.1,1090.4 L1737.9,1095.5 L1739.7,1100.0 L1741.5,1102.6 L1743.3,1107.8 L1745.1,1112.3 L1747.0,1116.2 L1748.8,1120.6 L1750.6,1122.1 L1752.4,1124.0 L1754.2,1126.1 L1756.0,1131.7 L1757.8,1134.9 L1759.6,1137.4 L1761.5,1141.9 L1763.3,1146.4 L1765.1,1148.4 L1766.9,1151.8 L1768.7,1153.8 L1770.5,1153.9 L1772.3,1158.0 L1774.1,1161.8 L1776.0,1167.3 L1777.8,1171.8 L1779.6,1173.5 L1781.4,1175.7 L1783.2,1181.6 L1785.0,1183.0 L1786.8,1180.1 L1788.6,1185.7 L1790.5,1191.4 L1792.3,1194.7 L1794.1,1198.5 L1795.9,1200.2 L1797.7,1201.5 L1799.5,1204.2 L1801.3,1205.1 L1803.1,1206.1 L1805.0,1212.1 L1806.8,1216.6 L1808.6,1220.6 L1810.4,1224.0 L1812.2,1223.8 L1814.0,1227.4 L1815.8,1231.2 L1817.6,1233.6 L1819.5,1234.8 L1821.3,1237.2 L1823.1,1240.6 L1824.9,1240.9 L1826.7,1245.6 L1828.5,1249.7 L1830.3,1250.2 L1832.1,1253.4 L1834.0,1252.8 L1835.8,1254.7 L1837.6,1257.5 L1839.4,1259.3 L1841.2,1265.2 L1843.0,1269.5 L1844.8,1271.1 L1846.6,1275.5 L1848.5,1278.1 L1850.3,1277.0 L1852.1,1282.2 L1853.9,1286.4 L1855.7,1284.4 L1857.5,1284.2 L1859.3,1289.3 L1861.1,1295.2 L1863.0,1296.2 L1864.8,1297.1 L1866.6,1299.9 L1868.4,1304.9 L1870.2,1306.4 L1872.0,1310.0 L1873.8,1311.5 L1875.6,1311.1 L1877.5,1316.2 L1879.3,1320.7 L1881.1,1325.5 L1882.9,1323.5 L1884.7,1323.8 L1886.5,1328.3 L1888.3,1331.4 L1890.1,1335.4 L1892.0,1336.2 L1893.8,1339.5 L1895.6,1343.6 L1897.4,1342.6 L1899.2,1342.9 L1901.0,1348.1 L1902.8,1353.1 L1904.6,1354.7 L1906.5,1354.4 L1908.3,1355.9 L1910.1,1359.3 L1911.9,1361.5 L1913.7,1361.7 L1915.5,1363.9 L1917.3,1368.1 L1919.1,1372.3 L1921.0,1374.3 L1922.8,1376.2 L1924.6,1379.0 L1926.4,1380.0 L1928.2,1378.0 L1930.0,1381.9 L1931.8,1385.9 L1933.6,1389.9 L1935.5,1387.1 L1937.3,1389.4 L1939.1,1390.9 L1940.9,1393.4 L1942.7,1395.3 L1944.5,1398.0 L1946.3,1402.4 L1948.1,1403.2 L1950.0,1400.7 L1951.8,1405.4 L1953.6,1405.2 L1955.4,1408.4 L1957.2,1410.3 L1959.0,1410.0 L1960.8,1413.0 L1962.6,1413.0 L1964.5,1413.8 L1966.3,1421.3 L1968.1,1421.9 L1969.9,1421.4 L1971.7,1422.4 L1973.5,1422.4 L1975.3,1425.6 L1977.1,1426.8 L1979.0,1429.8 L1980.8,1434.7 L1982.6,1438.9 L1984.4,1439.1 L1986.2,1438.1 L1988.0,1438.7 L1989.8,1436.7 L1991.6,1444.5 L1993.5,1449.2 L1995.3,1448.5 L1997.1,1444.7 L1998.9,1445.8 L2000.7,1448.4 L2002.5,1449.2 L2004.3,1448.9 L2006.1,1454.2 L2007.9,1455.1 L2009.8,1453.8 L2011.6,1453.4 L2013.4,1458.6 L2015.2,1458.7 L2017.0,1459.9 L2018.8,1458.9 L2020.6,1459.4 L2022.4,1459.1 L2024.3,1460.8 L2026.1,1463.3 L2027.9,1464.3 L2029.7,1463.2 L2031.5,1465.5 L2033.3,1466.6 L2035.1,1467.2 L2036.9,1466.7 L2038.8,1468.3 L2040.6,1472.0 L2042.4,1472.3 L2044.2,1475.3 L2046.0,1479.2 L2047.8,1477.1 L2049.6,1476.3 L2051.4,1478.4 L2053.3,1479.2 L2055.1,1477.3 L2056.9,1474.6 L2058.7,1476.7 L2060.5,1480.0 L2062.3,1482.1 L2064.1,1480.3 L2065.9,1478.2 L2067.8,1480.4 L2069.6,1483.0 L2071.4,1481.8 L2073.2,1487.9 L2075.0,1487.4 L2076.8,1487.6 L2078.6,1487.6 L2080.4,1489.0 L2082.3,1489.4 L2084.1,1488.7 L2085.9,1492.1 L2087.7,1491.6 L2089.5,1492.0 L2091.3,1492.0 L2093.1,1493.5 L2094.9,1492.0 L2096.8,1492.8 L2098.6,1496.2 L2100.4,1500.8 L2102.2,1501.0 L2104.0,1499.3 L2105.8,1499.8 L2107.6,1503.4 L2109.4,1504.4 L2111.3,1503.6 L2113.1,1503.8 L2114.9,1502.8 L2116.7,1503.8 L2118.5,1503.6 L2120.3,1501.8 L2122.1,1505.5 L2123.9,1507.4 L2125.8,1507.6 L2127.6,1507.4 L2129.4,1505.2 L2131.2,1506.7 L2133.0,1505.7 L2134.8,1506.3 L2136.6,1506.6 L2138.4,1508.6 L2140.3,1509.1 L2142.1,1510.5 L2143.9,1514.0 L2145.7,1513.6 L2147.5,1512.2 L2149.3,1510.7 L2151.1,1509.6 L2152.9,1514.4 L2154.8,1518.1 L2156.6,1517.1 L2158.4,1517.4 L2160.2,1517.5 L2162.0,1516.2 L2163.8,1518.1 L2165.6,1514.4 L2167.4,1515.7 L2169.3,1517.8 L2171.1,1521.4 L2172.9,1520.9 L2174.7,1521.5 L2176.5,1516.1 L2178.3,1513.1 L2180.1,1516.5 L2181.9,1526.1 L2183.8,1526.7 L2185.6,1524.6 L2187.4,1525.3 L2189.2,1524.5 L2191.0,1530.8 L2192.8,1529.3 L2194.6,1523.3 L2196.4,1526.3 L2198.3,1527.6 L2200.1,1526.7 L2201.9,1528.5 L2203.7,1525.1 L2205.5,1527.6 L2207.3,1527.2 L2209.1,1533.0 L2210.9,1529.4 L2212.8,1530.4 L2214.6,1534.0 L2216.4,1534.6 L2218.2,1529.8 L2220.0,1530.0 L2221.8,1532.1 L2223.6,1532.7 L2225.4,1533.1 L2227.3,1531.1 L2229.1,1527.0 L2230.9,1526.8 L2232.7,1525.8 L2234.5,1531.6 L2236.3,1531.5 L2238.1,1532.2 L2239.9,1527.8 L2241.8,1530.4 L2243.6,1528.5 L2245.4,1531.9 L2247.2,1535.6 L2249.0,1536.6 L2250.8,1536.0 L2252.6,1532.4 L2254.4,1533.0 L2256.3,1534.8 L2258.1,1531.4 L2259.9,1532.3 L2261.7,1536.8 L2263.5,1538.5 L2265.3,1538.2 L2267.1,1539.2 L2268.9,1534.4 L2270.8,1537.0 L2272.6,1539.4 L2274.4,1542.1 L2276.2,1539.6 L2278.0,1538.7 L2279.8,1539.2 L2281.6,1538.5 L2283.4,1536.9 L2285.3,1535.9 L2287.1,1535.9 L2288.9,1536.9 L2290.7,1537.2 L2292.5,1539.5 L2294.3,1540.6 L2296.1,1539.2 L2297.9,1536.5 L2299.8,1539.7 L2301.6,1542.4 L2303.4,1542.6 L2305.2,1538.0 L2307.0,1538.1 L2308.8,1540.8 L2310.6,1541.6 L2312.4,1537.4 L2314.3,1533.3 L2316.1,1540.3 L2317.9,1542.3 L2319.7,1543.6 L2321.5,1540.6 L2323.3,1544.8 L2325.1,1541.4 L2326.9,1542.0 L2328.8,1540.9 L2330.6,1534.1 L2332.4,1536.8 L2334.2,1540.0 L2336.0,1537.4 L2337.8,1542.4 L2339.6,1545.1 L2341.4,1542.2 L2343.3,1542.9 L2345.1,1542.4 L2346.9,1538.8 L2348.7,1543.7 L2350.5,1540.8 L2352.3,1539.4 L2354.1,1538.0 L2355.9,1537.5 L2357.8,1540.9 L2359.6,1543.6 L2361.4,1538.3 L2363.2,1541.1 L2365.0,1544.9 L2366.8,1542.6 L2368.6,1539.6 L2370.4,1544.9 L2372.3,1536.0 L2374.1,1536.4 L2375.9,1540.5 L2377.7,1542.6 L2379.5,1542.2 L2381.3,1543.5 L2383.1,1545.5 L2384.9,1551.3 L2386.8,1552.4 L2388.6,1549.6 L2390.4,1546.9 L2392.2,1543.8 L2394.0,1540.8 L2395.8,1543.0 L2397.6,1541.9 L2399.4,1544.5 L2401.3,1545.5 L2403.1,1549.4 L2404.9,1549.8 L2406.7,1549.6 L2408.5,1550.4"/>
<path stroke="#ff00ff" d="M369.5,1104.1 L371.3,1099.0 L373.1,1114.1 L374.9,1090.7 L376.7,1062.2 L378.6,1079.7 L380.4,1076.8 L382.2,1095.4 L384.0,1099.4 L385.8,1104.5 L387.6,1098.6 L389.4,1090.8 L391.2,1101.7 L393.1,1106.5 L394.9,1081.8 L396.7,1080.6 L398.5,1101.0 L400.3,1096.8 L402.1,1096.4 L403.9,1104.9 L405.7,1104.3 L407.6,1069.6 L409.4,1078.0 L411.2,1068.2 L413.0,1063.4 L414.8,1062.9 L416.6,1079.7 L418.4,1067.1 L420.2,1057.3 L422.1,1051.6 L423.9,1061.4 L425.7,1071.2 L427.5,1065.6 L429.3,1049.3 L431.1,1044.5 L432.9,1064.9 L434.7,1077.5 L436.6,1050.2 L438.4,1062.0 L440.2,1065.8 L442.0,1086.5 L443.8,1080.9 L445.6,1091.2 L447.4,1067.5 L449.2,1060.5 L451.1,1063.0 L452.9,1069.4 L454.7,1058.2 L456.5,1064.1 L458.3,1074.2 L460.1,1065.3 L461.9,1065.7 L463.7,1068.5 L465.6,1063.2 L467.4,1072.2 L469.2,1076.6 L471.0,1085.3 L472.8,1077.8 L474.6,1048.7 L476.4,1026.5 L478.2,1054.1 L480.1,1064.4 L481.9,1057.6 L483.7,1038.7 L485.5,1023.8 L487.3,1037.4 L489.1,1046.0 L490.9,1041.3 L492.7,1038.6 L494.6,1043.0 L496.4,1051.9 L498.2,1055.6 L500.0,1050.9 L501.8,1052.7 L503.6,1035.7 L505.4,1042.1 L507.2,1069.9 L509.1,1068.5 L510.9,1062.6 L512.7,1043.8 L514.5,1035.2 L516.3,1040.9 L518.1,1042.1 L519.9,1053.8 L521.7,1049.7 L523.6,1041.7 L525.4,1051.0 L527.2,1040.6 L529.0,1030.8 L530.8,1028.4 L532.6,1037.0 L534.4,1044.7 L536.2,1023.7 L538.1,1007.4 L539.9,1011.8 L541.7,1029.3 L543.5,1029.8 L545.3,1026.7 L547.1,1022.9 L548.9,1027.6 L550.7,1043.1 L552.6,1030.2 L554.4,1030.1 L556.2,1034.4 L558.0,1030.4 L559.8,1008.1 L561.6,1018.5 L563.4,1018.5 L565.2,1008.5 L567.1,1018.7 L568.9,1030.4 L570.7,1026.8 L572.5,1016.9 L574.3,1010.5 L576.1,1013.8 L577.9,1014.4 L579.7,1016.2 L581.6,1006.2 L583.4,1014.9 L585.2,1012.2 L587.0,1011.4 L588.8,1003.7 L590.6,997.9 L592.4,1001.3 L594.2,1000.2 L596.1,1005.6 L597.9,1006.7 L599.7,995.0 L601.5,994.8 L603.3,1008.7 L605.1,1000.0 L606.9,997.5 L608.7,1008.0 L610.6,999.1 L612.4,991.8 L614.2,986.8 L616.0,978.4 L617.8,976.5 L619.6,983.7 L621.4,990.9 L623.2,983.9 L625.1,988.1 L626.9,985.9 L628.7,997.5 L630.5,986.7 L632.3,977.7 L634.1,985.9 L635.9,987.7 L637.7,978.5 L639.6,960.5 L641.4,955.3 L643.2,964.9 L645.0,973.1 L646.8,967.9 L648.6,975.9 L650.4,965.3 L652.2,964.5 L654.1,946.4 L655.9,954.9 L657.7,963.9 L659.5,961.9 L661.3,962.4 L663.1,957.3 L664.9,958.2 L666.7,947.3 L668.6,951.8 L670.4,956.6 L672.2,949.1 L674.0,972.0 L675.8,968.6 L677.6,945.4 L679.4,936.0 L681.2,934.1 L683.1,943.3 L684.9,942.9 L686.7,942.1 L688.5,942.2 L690.3,946.5 L692.1,946.2 L693.9,940.8 L695.7,929.9 L697.6,930.1 L699.4,937.4 L701.2,931.0 L703.0,944.0 L704.8,931.5 L706.6,926.8 L708.4,931.0 L710.2,939.0 L712.1,936.0 L713.9,918.5 L715.7,906.2 L717.5,922.1 L719.3,938.1 L721.1,934.9 L722.9,927.0 L724.7,904.6 L726.6,905.0 L728.4,915.9 L730.2,930.5 L732.0,934.8 L733.8,928.8 L735.6,914.2 L737.4,913.3 L739.2,905.7 L741.1,909.3 L742.9,908.2 L744.7,895.2 L746.5,897.4 L748.3,906.9 L750.1,896.3 L751.9,886.4 L753.7,894.3 L755.6,906.4 L757.4,896.3 L759.2,894.6 L761.0,888.4 L762.8,894.5 L764.6,887.7 L766.4,889.5 L768.2,881.5 L770.1,879.0 L771.9,884.9 L773.7,891.7 L775.5,883.0 L777.3,884.4 L779.1,871.5 L780.9,872.7 L782.7,881.1 L784.5,874.5 L786.4,868.3 L788.2,868.4 L790.0,876.1 L791.8,864.2 L793.6,858.8 L795.4,864.4 L797.2,865.3 L799.0,886.9 L800.9,879.1 L802.7,872.0 L804.5,865.2 L806.3,856.8 L808.1,853.6 L809.9,856.4 L811.7,836.1 L813.5,833.3 L815.4,848.6 L817.2,844.3 L819.0,840.3 L820.8,848.7 L822.6,844.5 L824.4,831.4 L826.2,834.9 L828.0,838.1 L829.9,839.9 L831.7,835.3 L833.5,832.9 L835.3,829.3 L837.1,834.8 L838.9,844.1 L840.7,836.8 L842.5,823.1 L844.4,828.6 L846.2,835.1 L848.0,825.6 L849.8,827.6 L851.6,823.1 L853.4,825.4 L855.2,823.8 L857.0,824.7 L858.9,820.2 L860.7,824.0 L862.5,824.7 L864.3,807.0 L866.1,811.6 L867.9,828.2 L869.7,815.7 L871.5,809.7 L873.4,801.6 L875.2,791.0 L877.0,794.7 L878.8,799.8 L880.6,801.3 L882.4,799.8 L884.2,793.5 L886.0,802.4 L887.9,812.4 L889.7,794.9 L891.5,785.7 L893.3,797.6 L895.1,807.2 L896.9,798.8 L898.7,787.8 L900.5,786.9 L902.4,794.5 L904.2,791.1 L906.0,774.0 L907.8,778.2 L909.6,781.8 L911.4,774.2 L913.2,775.0 L915.0,776.1 L916.9,772.8 L918.7,772.2 L920.5,762.4 L922.3,758.5 L924.1,757.4 L925.9,760.6 L927.7,763.1 L929.5,765.1 L931.4,762.1 L933.2,762.0 L935.0,761.1 L936.8,752.7 L938.6,748.4 L940.4,763.7 L942.2,754.6 L944.0,752.5 L945.9,754.3 L947.7,751.0 L949.5,750.8 L951.3,746.2 L953.1,747.3 L954.9,753.4 L956.7,749.4 L958.5,753.8 L960.4,749.4 L962.2,750.5 L964.0,753.1 L965.8,742.7 L967.6,735.0 L969.4,732.8 L971.2,726.5 L973.0,724.4 L974.9,721.2 L976.7,727.6 L978.5,726.1 L980.3,724.6 L982.1,723.2 L983.9,721.7 L985.7,720.3 L987.5,718.8 L989.4,717.3 L991.2,715.9 L993.0,714.4 L994.8,712.9 L996.6,711.5 L998.4,710.0 L1000.2,708.6 L1002.0,707.1 L1003.9,705.6 L1005.7,704.2 L1007.5,702.7 L1009.3,701.3 L1011.1,699.8 L1012.9,698.3 L1014.7,696.9 L1016.5,695.4 L1018.4,693.9 L1020.2,692.5 L1022.0,691.0 L1023.8,689.6 L1025.6,688.1 L1027.4,686.6 L1029.2,685.2 L1031.0,683.7 L1032.9,701.3 L1034.7,691.2 L1036.5,686.4 L1038.3,676.9 L1040.1,670.6 L1041.9,682.0 L1043.7,684.8 L1045.5,676.1 L1047.4,671.9 L1049.2,676.1 L1051.0,669.7 L1052.8,671.8 L1054.6,679.5 L1056.4,682.9 L1058.2,668.6 L1060.0,666.5 L1061.9,666.3 L1063.7,675.5 L1065.5,666.9 L1067.3,665.3 L1069.1,660.2 L1070.9,658.8 L1072.7,662.7 L1074.5,665.8 L1076.4,657.7 L1078.2,652.9 L1080.0,649.2 L1081.8,650.3 L1083.6,639.6 L1085.4,644.0 L1087.2,647.6 L1089.0,648.2 L1090.9,653.1 L1092.7,625.8 L1094.5,623.7 L1096.3,633.3 L1098.1,643.1 L1099.9,639.8 L1101.7,636.0 L1103.5,617.1 L1105.4,629.8 L1107.2,622.5 L1109.0,632.5 L1110.8,623.5 L1112.6,612.9 L1114.4,611.7 L1116.2,610.6 L1118.0,613.2 L1119.9,604.9 L1121.7,613.5 L1123.5,620.0 L1125.3,607.4 L1127.1,604.9 L1128.9,598.9 L1130.7,606.0 L1132.5,608.5 L1134.4,604.0 L1136.2,607.1 L1138.0,600.7 L1139.8,598.6 L1141.6,589.5 L1143.4,590.8 L1145.2,601.2 L1147.0,597.8 L1148.9,593.6 L1150.7,581.5 L1152.5,594.9 L1154.3,602.2 L1156.1,599.0 L1157.9,589.4 L1159.7,587.4 L1161.5,591.1 L1163.4,587.7 L1165.2,597.2 L1167.0,584.1 L1168.8,588.1 L1170.6,593.0 L1172.4,574.7 L1174.2,569.9 L1176.0,568.6 L1177.9,571.6 L1179.7,582.0 L1181.5,579.2 L1183.3,563.6 L1185.1,572.6 L1186.9,591.0 L1188.7,581.3 L1190.5,563.5 L1192.3,560.5 L1194.2,567.7 L1196.0,564.9 L1197.8,556.4 L1199.6,550.2 L1201.4,560.8 L1203.2,554.2 L1205.0,563.0 L1206.8,567.0 L1208.7,566.6 L1210.5,564.3 L1212.3,559.6 L1214.1,542.7 L1215.9,541.4 L1217.7,549.1 L1219.5,562.7 L1221.3,570.2 L1223.2,561.9 L1225.0,544.8 L1226.8,543.5 L1228.6,540.5 L1230.4,554.2 L1232.2,553.1 L1234.0,544.1 L1235.8,550.0 L1237.7,557.5 L1239.5,562.3 L1241.3,562.3 L1243.1,558.3 L1244.9,543.5 L1246.7,546.6 L1248.5,532.6 L1250.3,537.8 L1252.2,540.1 L1254.0,545.1 L1255.8,528.3 L1257.6,531.8 L1259.4,531.7 L1261.2,547.1 L1263.0,552.4 L1264.8,541.1 L1266.7,538.6 L1268.5,554.6 L1270.3,550.5 L1272.1,541.3 L1273.9,548.9 L1275.7,546.4 L1277.5,542.3 L1279.3,543.8 L1281.2,540.4 L1283.0,551.0 L1284.8,546.9 L1286.6,545.2 L1288.4,532.5 L1290.2,537.9 L1292.0,552.5 L1293.8,548.5 L1295.7,535.9 L1297.5,541.0 L1299.3,545.3 L1301.1,541.0 L1302.9,544.6 L1304.7,540.9 L1306.5,552.3 L1308.3,541.7 L1310.2,554.8 L1312.0,550.3 L1313.8,537.1 L1315.6,543.3 L1317.4,539.1 L1319.2,540.1 L1321.0,563.6 L1322.8,570.2 L1324.7,570.6 L1326.5,557.8 L1328.3,544.5 L1330.1,547.9 L1331.9,552.3 L1333.7,564.3 L1335.5,565.2 L1337.3,559.5 L1339.2,549.4 L1341.0,554.6 L1342.8,554.9 L1344.6,571.0 L1346.4,569.8 L1348.2,573.5 L1350.0,569.9 L1351.8,561.5 L1353.7,557.8 L1355.5,565.0 L1357.3,575.7 L1359.1,576.9 L1360.9,565.5 L1362.7,562.3 L1364.5,565.1 L1366.3,574.4 L1368.2,571.9 L1370.0,579.2 L1371.8,580.3 L1373.6,582.2 L1375.4,580.6 L1377.2,583.2 L1379.0,590.5 L1380.8,584.4 L1382.7,581.1 L1384.5,581.9 L1386.3,586.5 L1388.1,587.8 L1389.9,580.6 L1391.7,585.2 L1393.5,601.8 L1395.3,593.3 L1397.2,592.0 L1399.0,586.1 L1400.8,598.8 L1402.6,599.5 L1404.4,601.4 L1406.2,610.5 L1408.0,593.4 L1409.8,592.3 L1411.7,608.0 L1413.5,613.0 L1415.3,610.1 L1417.1,600.0 L1418.9,602.2 L1420.7,605.9 L1422.5,599.2 L1424.3,611.2 L1426.2,629.8 L1428.0,611.3 L1429.8,606.2 L1431.6,622.5 L1433.4,617.0 L1435.2,620.7 L1437.0,625.8 L1438.8,617.9 L1440.7,625.9 L1442.5,631.5 L1444.3,638.4 L1446.1,627.3 L1447.9,620.2 L1449.7,624.7 L1451.5,640.7 L1453.3,653.1 L1455.2,647.1 L1457.0,649.1 L1458.8,650.7 L1460.6,653.2 L1462.4,645.4 L1464.2,645.0 L1466.0,654.0 L1467.8,659.7 L1469.7,655.8 L1471.5,656.8 L1473.3,664.6 L1475.1,668.2 L1476.9,666.2 L1478.7,664.0 L1480.5,669.8 L1482.3,667.3 L1484.2,670.3 L1486.0,680.2 L1487.8,687.9 L1489.6,689.3 L1491.4,695.1 L1493.2,693.6 L1495.0,686.4 L1496.8,684.6 L1498.7,697.7 L1500.5,698.6 L1502.3,701.6 L1504.1,706.8 L1505.9,702.1 L1507.7,701.4 L1509.5,702.9 L1511.3,707.0 L1513.2,715.7 L1515.0,722.7 L1516.8,719.2 L1518.6,715.7 L1520.4,714.5 L1522.2,728.8 L1524.0,735.9 L1525.8,735.4 L1527.7,738.6 L1529.5,743.4 L1531.3,742.7 L1533.1,739.6 L1534.9,744.1 L1536.7,745.9 L1538.5,749.2 L1540.3,749.1 L1542.2,756.5 L1544.0,760.5 L1545.8,763.8 L1547.6,770.0 L1549.4,773.4 L1551.2,775.6 L1553.0,778.6 L1554.8,781.3 L1556.7,785.0 L1558.5,787.1 L1560.3,789.5 L1562.1,794.3 L1563.9,794.5 L1565.7,797.3 L1567.5,803.0 L1569.3,806.8 L1571.2,806.5 L1573.0,808.1 L1574.8,811.7 L1576.6,817.8 L1578.4,822.3 L1580.2,830.3 L1582.0,834.2 L1583.8,838.7 L1585.7,840.7 L1587.5,841.4 L1589.3,844.2 L1591.1,848.0 L1592.9,849.6 L1594.7,853.2 L1596.5,857.5 L1598.3,862.1 L1600.1,865.3 L1602.0,867.8 L1603.8,871.7 L1605.6,876.4 L1607.4,878.1 L1609.2,879.7 L1611.0,883.4 L1612.8,887.8 L1614.6,888.2 L1616.5,887.8 L1618.3,891.4 L1620.1,896.4 L1621.9,897.9 L1623.7,901.9 L1625.5,909.6 L1627.3,910.5 L1629.1,909.0 L1631.0,912.5 L1632.8,915.2 L1634.6,919.3 L1636.4,927.0 L1638.2,929.6 L1640.0,928.8 L1641.8,932.3 L1643.6,936.7 L1645.5,938.0 L1647.3,939.8 L1649.1,943.6 L1650.9,946.6 L1652.7,949.5 L1654.5,957.0 L1656.3,962.5 L1658.1,966.1 L1660.0,966.7 L1661.8,970.6 L1663.6,971.3 L1665.4,974.7 L1667.2,979.5 L1669.0,985.7 L1670.8,986.8 L1672.6,988.7 L1674.5,993.6 L1676.3,999.0 L1678.1,999.9 L1679.9,1005.2 L1681.7,1009.5 L1683.5,1011.5 L1685.3,1014.5 L1687.1,1016.4 L1689.0,1020.6 L1690.8,1026.2 L1692.6,1028.8 L1694.4,1033.0 L1696.2,1038.0 L1698.0,1042.9 L1699.8,1045.5 L1701.6,1046.9 L1703.5,1053.7 L1705.3,1056.8 L1707.1,1058.2 L1708.9,1060.9 L1710.7,1063.5 L1712.5,1066.6 L1714.3,1070.6 L1716.1,1076.6 L1718.0,1079.1 L1719.8,1080.2 L1721.6,1080.0 L1723.4,1084.3 L1725.2,1092.1 L1727.0,1094.4 L1728.8,1097.2 L1730.6,1100.7 L1732.5,1102.1 L1734.3,1106.5 L1736.1,1111.9 L1737.9,1114.7 L1739.7,1115.2 L1741.5,1120.8 L1743.3,1124.5 L1745.1,1128.3 L1747.0,1131.3 L1748.8,1133.6 L1750.6,1134.9 L1752.4,1137.2 L1754.2,1143.6 L1756.0,1147.7 L1757.8,1150.2 L1759.6,1151.7 L1761.5,1152.8 L1763.3,1157.3 L1765.1,1162.3 L1766.9,1169.0 L1768.7,1170.6 L1770.5,1172.8 L1772.3,1176.7 L1774.1,1178.2 L1776.0,1177.5 L1777.8,1182.4 L1779.6,1186.6 L1781.4,1187.8 L1783.2,1190.7 L1785.0,1192.3 L1786.8,1196.5 L1788.6,1200.4 L1790.5,1203.3 L1792.3,1209.5 L1794.1,1211.9 L1795.9,1211.6 L1797.7,1214.0 L1799.5,1216.8 L1801.3,1220.2 L1803.1,1222.7 L1805.0,1227.0 L1806.8,1229.3 L1808.6,1228.9 L1810.4,1232.1 L1812.2,1235.8 L1814.0,1239.8 L1815.8,1243.2 L1817.6,1245.4 L1819.5,1247.4 L1821.3,1252.1 L1823.1,1253.7 L1824.9,1256.2 L1826.7,1258.5 L1828.5,1261.0 L1830.3,1262.2 L1832.1,1263.9 L1834.0,1266.4 L1835.8,1269.1 L1837.6,1274.6 L1839.4,1276.4 L1841.2,1276.5 L1843.0,1281.3 L1844.8,1284.3 L1846.6,1282.9 L1848.5,1285.7 L1850.3,1288.2 L1852.1,1289.0 L1853.9,1295.9 L1855.7,1298.4 L1857.5,1298.6 L1859.3,1302.1 L1861.1,1305.8 L1863.0,1307.5 L1864.8,1308.5 L1866.6,1310.4 L1868.4,1312.1 L1870.2,1313.2 L1872.0,1319.2 L1873.8,1324.0 L1875.6,1324.5 L1877.5,1326.0 L1879.3,1325.8 L1881.1,1331.3 L1882.9,1335.8 L1884.7,1335.6 L1886.5,1333.7 L1888.3,1337.5 L1890.1,1342.2 L1892.0,1344.6 L1893.8,1347.6 L1895.6,1351.9 L1897.4,1353.7 L1899.2,1358.2 L1901.0,1361.6 L1902.8,1362.3 L1904.6,1364.7 L1906.5,1363.4 L1908.3,1365.0 L1910.1,1368.6 L1911.9,1369.5 L1913.7,1370.7 L1915.5,1370.7 L1917.3,1370.4 L1919.1,1376.1 L1921.0,1382.0 L1922.8,1383.4 L1924.6,1386.3 L1926.4,1386.9 L1928.2,1386.9 L1930.0,1389.3 L1931.8,1392.4 L1933.6,1388.4 L1935.5,1390.3 L1937.3,1395.9 L1939.1,1396.1 L1940.9,1399.0 L1942.7,1401.9 L1944.5,1407.3 L1946.3,1406.8 L1948.1,1406.9 L1950.0,1408.5 L1951.8,1407.9 L1953.6,1412.4 L1955.4,1412.8 L1957.2,1415.4 L1959.0,1419.7 L1960.8,1417.2 L1962.6,1418.9 L1964.5,1419.8 L1966.3,1421.6 L1968.1,1422.3 L1969.9,1422.5 L1971.7,1427.9 L1973.5,1430.5 L1975.3,1432.2 L1977.1,1432.8 L1979.0,1436.4 L1980.8,1437.0 L1982.6,1436.2 L1984.4,1439.8 L1986.2,1441.7 L1988.0,1442.3 L1989.8,1438.5 L1991.6,1445.5 L1993.5,1447.7 L1995.3,1449.2 L1997.1,1451.1 L1998.9,1449.5 L2000.7,1452.9 L2002.5,1455.3 L2004.3,1455.7 L2006.1,1456.7 L2007.9,1454.0 L2009.8,1455.8 L2011.6,1455.3 L2013.4,1463.8 L2015.2,1461.9 L2017.0,1460.2 L2018.8,1462.9 L2020.6,1459.0 L2022.4,1463.7 L2024.3,1466.5 L2026.1,1464.8 L2027.9,1464.2 L2029.7,1466.0 L2031.5,1467.8 L2033.3,1468.6 L2035.1,1468.1 L2036.9,1469.9 L2038.8,1470.5 L2040.6,1470.6 L2042.4,1475.1 L2044.2,1476.2 L2046.0,1475.6 L2047.8,1478.5 L2049.6,1478.9 L2051.4,1476.6 L2053.3,1478.9 L2055.1,1478.4 L2056.9,1476.6 L2058.7,1479.6 L2060.5,1480.4 L2062.3,1483.2 L2064.1,1481.9 L2065.9,1484.7 L2067.8,1483.1 L2069.6,1482.8 L2071.4,1486.3 L2073.2,1486.1 L2075.0,1486.4 L2076.8,1488.3 L2078.6,1488.5 L2080.4,1488.8 L2082.3,1493.5 L2084.1,1491.4 L2085.9,1489.9 L2087.7,1493.6 L2089.5,1496.0 L2091.3,1496.8 L2093.1,1495.1 L2094.9,1491.3 L2096.8,1496.7 L2098.6,1495.7 L2100.4,1495.5 L2102.2,1496.4 L2104.0,1495.2 L2105.8,1499.2 L2107.6,1503.2 L2109.4,1501.2 L2111.3,1499.9 L2113.1,1501.6 L2114.9,1505.5 L2116.7,1505.3 L2118.5,1500.6 L2120.3,1503.3 L2122.1,1508.0 L2123.9,1510.9 L2125.8,1511.6 L2127.6,1509.4 L2129.4,1506.0 L2131.2,1509.1 L2133.0,1507.7 L2134.8,1508.9 L2136.6,1511.5 L2138.4,1508.4 L2140.3,1508.9 L2142.1,1511.1 L2143.9,1508.0 L2145.7,1511.0 L2147.5,1504.8 L2149.3,1510.8 L2151.1,1515.7 L2152.9,1513.0 L2154.8,1509.5 L2156.6,1514.0 L2158.4,1518.3 L2160.2,1514.8 L2162.0,1517.1 L2163.8,1519.3 L2165.6,1518.8 L2167.4,1515.3 L2169.3,1517.7 L2171.1,1521.7 L2172.9,1520.7 L2174.7,1521.3 L2176.5,1524.1 L2178.3,1521.9 L2180.1,1525.8 L2181.9,1523.3 L2183.8,1524.3 L2185.6,1522.9 L2187.4,1523.2 L2189.2,1519.9 L2191.0,1524.3 L2192.8,1528.9 L2194.6,1527.7 L2196.4,1531.3 L2198.3,1532.8 L2200.1,1529.2 L2201.9,1530.4 L2203.7,1530.9 L2205.5,1528.3 L2207.3,1529.9 L2209.1,1526.8 L2210.9,1529.3 L2212.8,1536.4 L2214.6,1532.4 L2216.4,1531.9 L2218.2,1535.1 L2220.0,1533.9 L2221.8,1537.0 L2223.6,1535.7 L2225.4,1532.0 L2227.3,1528.7 L2229.1,1533.8 L2230.9,1533.4 L2232.7,1534.1 L2234.5,1535.4 L2236.3,1535.7 L2238.1,1528.7 L2239.9,1536.4 L2241.8,1534.9 L2243.6,1530.8 L2245.4,1535.4 L2247.2,1534.9 L2249.0,1537.1 L2250.8,1532.4 L2252.6,1531.5 L2254.4,1535.1 L2256.3,1536.4 L2258.1,1537.9 L2259.9,1539.6 L2261.7,1542.6 L2263.5,1537.7 L2265.3,1532.9 L2267.1,1538.1 L2268.9,1535.4 L2270.8,1535.8 L2272.6,1537.7 L2274.4,1541.0 L2276.2,1537.3 L2278.0,1536.7 L2279.8,1535.7 L2281.6,1535.0 L2283.4,1531.2 L2285.3,1534.8 L2287.1,1536.3 L2288.9,1537.5 L2290.7,1534.3 L2292.5,1541.3 L2294.3,1541.7 L2296.1,1539.3 L2297.9,1536.1 L2299.8,1535.6 L2301.6,1536.4 L2303.4,1541.1 L2305.2,1539.3 L2307.0,1535.2 L2308.8,1531.7 L2310.6,1538.5 L2312.4,1541.1 L2314.3,1537.9 L2316.1,1540.1 L2317.9,1543.5 L2319.7,1537.4 L2321.5,1538.1 L2323.3,1539.0 L2325.1,1542.2 L2326.9,1545.6 L2328.8,1541.4 L2330.6,1539.6 L2332.4,1536.7 L2334.2,1536.3 L2336.0,1534.5 L2337.8,1534.2 L2339.6,1537.5 L2341.4,1543.3 L2343.3,1544.5 L2345.1,1540.7 L2346.9,1539.2 L2348.7,1540.9 L2350.5,1541.5 L2352.3,1540.4 L2354.1,1540.7 L2355.9,1541.6 L2357.8,1542.4 L2359.6,1544.1 L2361.4,1539.4 L2363.2,1540.9 L2365.0,1544.9 L2366.8,1546.6 L2368.6,1546.8 L2370.4,1544.4 L2372.3,1545.6 L2374.1,1547.7 L2375.9,1546.4 L2377.7,1541.5 L2379.5,1545.0 L2381.3,1541.7 L2383.1,1539.6 L2384.9,1539.2 L2386.8,1540.6 L2388.6,1544.3 L2390.4,1542.5 L2392.2,1539.3 L2394.0,1544.3 L2395.8,1546.2 L2397.6,1543.3 L2399.4,1542.6 L2401.3,1546.8 L2403.1,1544.0 L2404.9,1542.9 L2406.7,1547.7 L2408.5,1547.4"/>
<path stroke="#00ffff" d="M369.5,1088.2 L371.3,1067.9 L373.1,1050.8 L374.9,1054.4 L376.7,1062.4 L378.6,1059.1 L380.4,1064.7 L382.2,1055.0 L384.0,1063.1 L385.8,1056.9 L387.6,1065.4 L389.4,1064.5 L391.2,1076.2 L393.1,1055.7 L394.9,1037.2 L396.7,1065.6 L398.5,1064.0 L400.3,1050.6 L402.1,1042.5 L403.9,1045.6 L405.7,1075.2 L407.6,1083.5 L409.4,1073.6 L411.2,1073.3 L413.0,1074.0 L414.8,1052.1 L416.6,1049.1 L418.4,1052.9 L420.2,1041.6 L422.1,1067.4 L423.9,1055.6 L425.7,1058.9 L427.5,1054.7 L429.3,1054.0 L431.1,1055.2 L432.9,1051.1 L434.7,1046.1 L436.6,1054.5 L438.4,1060.0 L440.2,1055.3 L442.0,1067.5 L443.8,1040.9 L445.6,1034.6 L447.4,1034.2 L449.2,1041.3 L451.1,1029.4 L452.9,1044.7 L454.7,1047.9 L456.5,1047.7 L458.3,1033.7 L460.1,1027.9 L461.9,1045.9 L463.7,1031.2 L465.6,1038.2 L467.4,1025.8 L469.2,1029.1 L471.0,1032.9 L472.8,1045.3 L474.6,1051.5 L476.4,1059.6 L478.2,1046.4 L480.1,1041.8 L481.9,1026.4 L483.7,1032.5 L485.5,1054.6 L487.3,1028.7 L489.1,1036.2 L490.9,1035.9 L492.7,1017.8 L494.6,1004.5 L496.4,1003.9 L498.2,1031.4 L500.0,1032.4 L501.8,1015.0 L503.6,1022.8 L505.4,1028.7 L507.2,1014.4 L509.1,1019.9 L510.9,1030.2 L512.7,1031.9 L514.5,1022.5 L516.3,1025.5 L518.1,1029.2 L519.9,1027.5 L521.7,1025.9 L523.6,1017.0 L525.4,1015.6 L527.2,1013.5 L529.0,1013.8 L530.8,1012.3 L532.6,1005.1 L534.4,1006.3 L536.2,991.5 L538.1,1001.3 L539.9,1014.0 L541.7,1012.3 L543.5,1003.9 L545.3,1002.2 L547.1,1000.9 L548.9,1011.9 L550.7,1009.4 L552.6,998.3 L554.4,1013.0 L556.2,1009.7 L558.0,988.6 L559.8,994.8 L561.6,999.9 L563.4,1002.9 L565.2,995.6 L567.1,997.7 L568.9,993.4 L570.7,991.9 L572.5,981.0 L574.3,996.3 L576.1,1001.8 L577.9,998.4 L579.7,1003.6 L581.6,983.5 L583.4,992.1 L585.2,999.2 L587.0,999.2 L588.8,995.6 L590.6,981.0 L592.4,976.0 L594.2,979.6 L596.1,1001.0 L597.9,991.0 L599.7,983.2 L601.5,982.1 L603.3,986.4 L605.1,996.9 L606.9,997.4 L608.7,986.6 L610.6,974.4 L612.4,971.2 L614.2,971.7 L616.0,966.5 L617.8,956.2 L619.6,960.6 L621.4,972.6 L623.2,975.8 L625.1,971.3 L626.9,965.3 L628.7,958.9 L630.5,956.4 L632.3,961.0 L634.1,952.3 L635.9,963.0 L637.7,965.2 L639.6,967.6 L641.4,966.4 L643.2,963.1 L645.0,960.4 L646.8,950.8 L648.6,961.1 L650.4,965.6 L652.2,966.7 L654.1,972.1 L655.9,981.1 L657.7,961.6 L659.5,960.2 L661.3,958.9 L663.1,963.5 L664.9,966.9 L666.7,964.4 L668.6,959.3 L670.4,955.7 L672.2,956.3 L674.0,934.2 L675.8,940.4 L677.6,944.5 L679.4,938.0 L681.2,949.0 L683.1,950.0 L684.9,958.7 L686.7,939.4 L688.5,942.8 L690.3,936.5 L692.1,940.7 L693.9,946.3 L695.7,940.0 L697.6,935.0 L699.4,924.7 L701.2,935.6 L703.0,950.6 L704.8,941.7 L706.6,948.6 L708.4,944.2 L710.2,933.9 L712.1,922.3 L713.9,948.2 L715.7,941.8 L717.5,934.3 L719.3,932.4 L721.1,926.2 L722.9,934.6 L724.7,936.3 L726.6,930.0 L728.4,926.1 L730.2,915.7 L732.0,907.9 L733.8,912.2 L735.6,921.9 L737.4,926.8 L739.2,926.1 L741.1,917.7 L742.9,911.0 L744.7,905.6 L746.5,909.9 L748.3,902.9 L750.1,903.0 L751.9,894.5 L753.7,889.0 L755.6,893.4 L757.4,912.2 L759.2,906.4 L761.0,910.9 L762.8,907.3 L764.6,891.4 L766.4,897.4 L768.2,899.8 L770.1,885.7 L771.9,877.0 L773.7,890.8 L775.5,901.3 L777.3,903.0 L779.1,889.7 L780.9,870.8 L782.7,876.2 L784.5,875.2 L786.4,880.5 L788.2,883.9 L790.0,892.3 L791.8,892.5 L793.6,884.6 L795.4,889.1 L797.2,890.2 L799.0,887.4 L800.9,877.6 L802.7,882.3 L804.5,873.3 L806.3,875.4 L808.1,877.9 L809.9,872.9 L811.7,868.8 L813.5,868.6 L815.4,878.3 L817.2,865.4 L819.0,865.9 L820.8,871.5 L822.6,857.8 L824.4,854.2 L826.2,858.0 L828.0,857.2 L829.9,844.6 L831.7,860.6 L833.5,868.2 L835.3,850.1 L837.1,845.6 L838.9,842.8 L840.7,823.0 L842.5,833.3 L844.4,845.1 L846.2,843.1 L848.0,835.2 L849.8,832.2 L851.6,837.3 L853.4,849.0 L855.2,843.7 L857.0,833.0 L858.9,833.6 L860.7,832.8 L862.5,830.9 L864.3,808.0 L866.1,817.1 L867.9,819.5 L869.7,822.2 L871.5,834.4 L873.4,844.4 L875.2,829.5 L877.0,820.5 L878.8,824.4 L880.6,816.0 L882.4,807.1 L884.2,816.6 L886.0,819.9 L887.9,819.9 L889.7,814.8 L891.5,808.9 L893.3,814.8 L895.1,815.7 L896.9,809.6 L898.7,813.5 L900.5,805.6 L902.4,810.8 L904.2,807.6 L906.0,811.1 L907.8,804.3 L909.6,800.8 L911.4,794.9 L913.2,791.5 L915.0,801.2 L916.9,806.5 L918.7,801.3 L920.5,794.7 L922.3,792.8 L924.1,792.3 L925.9,791.5 L927.7,778.8 L929.5,778.8 L931.4,788.7 L933.2,786.7 L935.0,788.1 L936.8,776.4 L938.6,772.7 L940.4,783.2 L942.2,773.2 L944.0,776.1 L945.9,781.2 L947.7,780.4 L949.5,783.5 L951.3,774.8 L953.1,774.2 L954.9,774.1 L956.7,771.4 L958.5,773.0 L960.4,781.7 L962.2,774.4 L964.0,771.9 L965.8,760.9 L967.6,755.2 L969.4,761.1 L971.2,761.8 L973.0,750.7 L974.9,750.3 L976.7,759.4 L978.5,753.4 L980.3,743.7 L982.1,738.4 L983.9,738.0 L985.7,741.3 L987.5,743.1 L989.4,743.3 L991.2,746.8 L993.0,749.8 L994.8,743.5 L996.6,734.3 L998.4,745.4 L1000.2,738.7 L1002.0,725.5 L1003.9,721.7 L1005.7,741.7 L1007.5,742.3 L1009.3,725.2 L1011.1,725.2 L1012.9,721.1 L1014.7,718.4 L1016.5,728.9 L1018.4,727.7 L1020.2,724.0 L1022.0,717.2 L1023.8,714.7 L1025.6,723.3 L1027.4,732.1 L1029.2,728.6 L1031.0,728.6 L1032.9,725.0 L1034.7,705.3 L1036.5,703.0 L1038.3,717.7 L1040.1,723.3 L1041.9,702.7 L1043.7,687.4 L1045.5,701.8 L1047.4,701.7 L1049.2,709.4 L1051.0,707.9 L1052.8,689.7 L1054.6,693.8 L1056.4,687.7 L1058.2,698.1 L1060.0,698.4 L1061.9,687.8 L1063.7,684.1 L1065.5,675.6 L1067.3,678.1 L1069.1,685.5 L1070.9,675.7 L1072.7,659.3 L1074.5,670.6 L1076.4,682.4 L1078.2,680.6 L1080.0,687.2 L1081.8,672.4 L1083.6,685.7 L1085.4,679.7 L1087.2,680.3 L1089.0,674.2 L1090.9,662.8 L1092.7,659.9 L1094.5,663.5 L1096.3,675.5 L1098.1,670.6 L1099.9,670.0 L1101.7,659.1 L1103.5,659.2 L1105.4,657.5 L1107.2,660.3 L1109.0,659.7 L1110.8,657.6 L1112.6,655.3 L1114.4,655.3 L1116.2,655.8 L1118.0,644.3 L1119.9,654.4 L1121.7,655.8 L1123.5,651.1 L1125.3,650.9 L1127.1,637.4 L1128.9,620.6 L1130.7,634.5 L1132.5,635.4 L1134.4,643.4 L1136.2,644.3 L1138.0,633.4 L1139.8,624.9 L1141.6,633.4 L1143.4,625.5 L1145.2,625.4 L1147.0,620.8 L1148.9,632.5 L1150.7,629.9 L1152.5,623.6 L1154.3,618.3 L1156.1,628.9 L1157.9,609.5 L1159.7,619.8 L1161.5,617.2 L1163.4,610.8 L1165.2,600.7 L1167.0,630.1 L1168.8,639.4 L1170.6,630.0 L1172.4,628.4 L1174.2,614.2 L1176.0,604.8 L1177.9,605.4 L1179.7,615.1 L1181.5,615.8 L1183.3,617.9 L1185.1,612.0 L1186.9,608.1 L1188.7,610.8 L1190.5,607.2 L1192.3,604.7 L1194.2,601.3 L1196.0,602.9 L1197.8,610.3 L1199.6,610.7 L1201.4,601.7 L1203.2,594.8 L1205.0,595.9 L1206.8,607.0 L1208.7,594.5 L1210.5,585.0 L1212.3,582.6 L1214.1,578.5 L1215.9,571.3 L1217.7,580.0 L1219.5,586.6 L1221.3,592.5 L1223.2,593.1 L1225.0,596.2 L1226.8,579.7 L1228.6,584.4 L1230.4,587.2 L1232.2,591.1 L1234.0,587.2 L1235.8,596.2 L1237.7,601.3 L1239.5,598.9 L1241.3,587.5 L1243.1,580.8 L1244.9,581.1 L1246.7,592.8 L1248.5,594.5 L1250.3,591.2 L1252.2,604.5 L1254.0,587.1 L1255.8,579.6 L1257.6,584.4 L1259.4,600.1 L1261.2,595.0 L1263.0,585.9 L1264.8,583.1 L1266.7,582.9 L1268.5,586.1 L1270.3,586.0 L1272.1,581.4 L1273.9,586.4 L1275.7,577.1 L1277.5,575.1 L1279.3,568.4 L1281.2,575.0 L1283.0,576.4 L1284.8,575.3 L1286.6,581.4 L1288.4,573.6 L1290.2,570.4 L1292.0,571.3 L1293.8,577.0 L1295.7,582.7 L1297.5,571.7 L1299.3,583.3 L1301.1,587.8 L1302.9,592.7 L1304.7,588.4 L1306.5,589.0 L1308.3,582.9 L1310.2,586.3 L1312.0,578.6 L1313.8,590.9 L1315.6,581.0 L1317.4,589.6 L1319.2,589.3 L1321.0,591.0 L1322.8,592.2 L1324.7,588.2 L1326.5,586.2 L1328.3,581.3 L1330.1,597.0 L1331.9,594.9 L1333.7,591.0 L1335.5,603.6 L1337.3,612.4 L1339.2,603.0 L1341.0,598.6 L1342.8,606.0 L1344.6,604.7 L1346.4,598.0 L1348.2,589.4 L1350.0,588.2 L1351.8,588.3 L1353.7,597.0 L1355.5,607.4 L1357.3,596.1 L1359.1,600.7 L1360.9,613.4 L1362.7,609.1 L1364.5,615.3 L1366.3,607.7 L1368.2,612.8 L1370.0,615.9 L1371.8,616.5 L1373.6,618.0 L1375.4,624.3 L1377.2,624.5 L1379.0,620.0 L1380.8,618.7 L1382.7,621.2 L1384.5,619.8 L1386.3,623.4 L1388.1,619.8 L1389.9,613.5 L1391.7,619.9 L1393.5,618.5 L1395.3,630.1 L1397.2,636.2 L1399.0,625.7 L1400.8,634.7 L1402.6,633.6 L1404.4,625.4 L1406.2,633.1 L1408.0,643.3 L1409.8,647.7 L1411.7,643.5 L1413.5,646.9 L1415.3,651.6 L1417.1,645.7 L1418.9,651.7 L1420.7,655.5 L1422.5,657.9 L1424.3,665.3 L1426.2,659.6 L1428.0,648.2 L1429.8,651.0 L1431.6,660.5 L1433.4,658.0 L1435.2,648.7 L1437.0,655.1 L1438.8,658.8 L1440.7,665.0 L1442.5,669.7 L1444.3,677.0 L1446.1,672.7 L1447.9,675.3 L1449.7,676.4 L1451.5,677.7 L1453.3,682.3 L1455.2,686.0 L1457.0,693.3 L1458.8,691.4 L1460.6,688.6 L1462.4,693.4 L1464.2,694.3 L1466.0,694.6 L1467.8,696.9 L1469.7,696.9 L1471.5,707.8 L1473.3,713.4 L1475.1,707.2 L1476.9,709.1 L1478.7,707.7 L1480.5,714.1 L1482.3,715.7 L1484.2,719.3 L1486.0,717.3 L1487.8,728.2 L1489.6,730.7 L1491.4,732.7 L1493.2,735.8 L1495.0,735.4 L1496.8,739.6 L1498.7,730.6 L1500.5,731.4 L1502.3,738.8 L1504.1,746.2 L1505.9,751.1 L1507.7,753.6 L1509.5,757.5 L1511.3,760.4 L1513.2,760.0 L1515.0,759.4 L1516.8,760.7 L1518.6,762.5 L1520.4,760.2 L1522.2,766.6 L1524.0,777.4 L1525.8,780.5 L1527.7,786.6 L1529.5,787.3 L1531.3,783.8 L1533.1,786.5 L1534.9,789.7 L1536.7,795.8 L1538.5,797.2 L1540.3,794.9 L1542.2,798.7 L1544.0,806.6 L1545.8,808.6 L1547.6,808.7 L1549.4,811.7 L1551.2,815.7 L1553.0,817.0 L1554.8,820.2 L1556.7,825.8 L1558.5,827.5 L1560.3,828.6 L1562.1,828.5 L1563.9,836.6 L1565.7,842.7 L1567.5,845.7 L1569.3,850.8 L1571.2,853.1 L1573.0,856.1 L1574.8,855.6 L1576.6,858.7 L1578.4,858.1 L1580.2,861.6 L1582.0,867.9 L1583.8,872.8 L1585.7,872.3 L1587.5,878.8 L1589.3,883.6 L1591.1,882.8 L1592.9,888.4 L1594.7,891.0 L1596.5,891.6 L1598.3,895.0 L1600.1,899.5 L1602.0,903.7 L1603.8,905.0 L1605.6,905.6 L1607.4,907.8 L1609.2,914.8 L1611.0,920.2 L1612.8,920.4 L1614.6,920.1 L1616.5,921.3 L1618.3,926.2 L1620.1,930.4 L1621.9,936.0 L1623.7,939.3 L1625.5,941.3 L1627.3,940.9 L1629.1,945.1 L1631.0,950.3 L1632.8,953.6 L1634.6,959.4 L1636.4,960.9 L1638.2,962.6 L1640.0,964.2 L1641.8,967.0 L1643.6,969.9 L1645.5,973.9 L1647.3,978.6 L1649.1,983.5 L1650.9,985.8 L1652.7,987.7 L1654.5,991.6 L1656.3,995.9 L1658.1,1000.3 L1660.0,1000.9 L1661.8,1003.9 L1663.6,1008.2 L1665.4,1011.9 L1667.2,1014.8 L1669.0,1020.0 L1670.8,1023.0 L1672.6,1026.0 L1674.5,1029.6 L1676.3,1033.7 L1678.1,1036.3 L1679.9,1040.4 L1681.7,1044.8 L1683.5,1046.8 L1685.3,1050.6 L1687.1,1054.9 L1689.0,1056.5 L1690.8,1058.1 L1692.6,1060.9 L1694.4,1061.4 L1696.2,1065.1 L1698.0,1067.1 L1699.8,1068.9 L1701.6,1073.2 L1703.5,1078.4 L1705.3,1082.4 L1707.1,1084.3 L1708.9,1087.0 L1710.7,1089.9 L1712.5,1092.9 L1714.3,1095.5 L1716.1,1101.4 L1718.0,1102.4 L1719.8,1105.8 L1721.6,1108.2 L1723.4,1112.2 L1725.2,1112.9 L1727.0,1115.0 L1728.8,1116.4 L1730.6,1120.3 L1732.5,1125.1 L1734.3,1131.1 L1736.1,1133.8 L1737.9,1137.5 L1739.7,1137.6 L1741.5,1140.9 L1743.3,1143.2 L1745.1,1147.8 L1747.0,1149.9 L1748.8,1152.5 L1750.6,1154.3 L1752.4,1158.9 L1754.2,1159.3 L1756.0,1163.8 L1757.8,1166.2 L1759.6,1169.4 L1761.5,1173.0 L1763.3,1174.6 L1765.1,1177.9 L1766.9,1184.2 L1768.7,1186.5 L1770.5,1190.3 L1772.3,1191.2 L1774.1,1193.3 L1776.0,1197.3 L1777.8,1198.4 L1779.6,1203.8 L1781.4,1208.3 L1783.2,1209.5 L1785.0,1212.5 L1786.8,1214.7 L1788.6,1217.3 L1790.5,1221.3 L1792.3,1224.1 L1794.1,1225.9 L1795.9,1227.8 L1797.7,1230.4 L1799.5,1231.4 L1801.3,1234.8 L1803.1,1238.2 L1805.0,1240.0 L1806.8,1243.0 L1808.6,1246.7 L1810.4,1250.0 L1812.2,1252.5 L1814.0,1256.8 L1815.8,1258.5 L1817.6,1261.7 L1819.5,1265.5 L1821.3,1265.4 L1823.1,1268.9 L1824.9,1275.0 L1826.7,1277.7 L1828.5,1273.9 L1830.3,1274.1 L1832.1,1280.4 L1834.0,1282.4 L1835.8,1286.2 L1837.6,1287.8 L1839.4,1287.9 L1841.2,1292.4 L1843.0,1295.3 L1844.8,1298.1 L1846.6,1299.5 L1848.5,1300.4 L1850.3,1305.1 L1852.1,1309.4 L1853.9,1309.4 L1855.7,1309.7 L1857.5,1311.5 L1859.3,1316.4 L1861.1,1320.4 L1863.0,1323.5 L1864.8,1326.9 L1866.6,1325.6 L1868.4,1326.5 L1870.2,1326.9 L1872.0,1330.0 L1873.8,1336.2 L1875.6,1336.2 L1877.5,1338.1 L1879.3,1340.3 L1881.1,1345.8 L1882.9,1348.2 L1884.7,1346.2 L1886.5,1347.5 L1888.3,1351.9 L1890.1,1353.5 L1892.0,1356.6 L1893.8,1357.4 L1895.6,1360.9 L1897.4,1363.2 L1899.2,1365.2 L1901.0,1367.8 L1902.8,1369.5 L1904.6,1369.3 L1906.5,1372.2 L1908.3,1373.6 L1910.1,1376.9 L1911.9,1378.3 L1913.7,1380.4 L1915.5,1380.7 L1917.3,1384.1 L1919.1,1386.4 L1921.0,1390.4 L1922.8,1392.3 L1924.6,1392.3 L1926.4,1393.1 L1928.2,1390.3 L1930.0,1391.8 L1931.8,1396.0 L1933.6,1402.1 L1935.5,1402.9 L1937.3,1405.0 L1939.1,1405.4 L1940.9,1406.1 L1942.7,1411.2 L1944.5,1410.1 L1946.3,1410.9 L1948.1,1411.7 L1950.0,1416.0 L1951.8,1414.8 L1953.6,1417.6 L1955.4,1416.2 L1957.2,1416.5 L1959.0,1423.8 L1960.8,1426.1 L1962.6,1426.8 L1964.5,1425.3 L1966.3,1428.1 L1968.1,1432.0 L1969.9,1431.6 L1971.7,1430.3 L1973.5,1435.8 L1975.3,1437.9 L1977.1,1438.3 L1979.0,1439.7 L1980.8,1439.1 L1982.6,1440.8 L1984.4,1441.5 L1986.2,1443.4 L1988.0,1445.6 L1989.8,1447.9 L1991.6,1450.5 L1993.5,1451.8 L1995.3,1452.3 L1997.1,1452.9 L1998.9,1455.8 L2000.7,1459.4 L2002.5,1458.0 L2004.3,1462.2 L2006.1,1463.4 L2007.9,1460.3 L2009.8,1459.1 L2011.6,1457.7 L2013.4,1464.9 L2015.2,1466.1 L2017.0,1467.5 L2018.8,1468.9 L2020.6,1471.7 L2022.4,1471.9 L2024.3,1471.0 L2026.1,1467.2 L2027.9,1470.7 L2029.7,1470.4 L2031.5,1471.4 L2033.3,1473.3 L2035.1,1471.6 L2036.9,1473.6 L2038.8,1474.4 L2040.6,1476.7 L2042.4,1476.0 L2044.2,1475.8 L2046.0,1479.1 L2047.8,1481.6 L2049.6,1482.4 L2051.4,1481.1 L2053.3,1480.4 L2055.1,1480.9 L2056.9,1481.3 L2058.7,1481.0 L2060.5,1481.5 L2062.3,1483.8 L2064.1,1487.0 L2065.9,1489.0 L2067.8,1489.6 L2069.6,1487.1 L2071.4,1488.9 L2073.2,1488.2 L2075.0,1490.3 L2076.8,1489.8 L2078.6,1488.0 L2080.4,1487.8 L2082.3,1490.8 L2084.1,1493.8 L2085.9,1492.8 L2087.7,1490.3 L2089.5,1491.0 L2091.3,1491.8 L2093.1,1501.9 L2094.9,1503.7 L2096.8,1501.0 L2098.6,1500.4 L2100.4,1497.8 L2102.2,1498.9 L2104.0,1498.3 L2105.8,1498.7 L2107.6,1504.5 L2109.4,1505.0 L2111.3,1499.2 L2113.1,1496.9 L2114.9,1498.5 L2116.7,1502.5 L2118.5,1503.1 L2120.3,1503.7 L2122.1,1501.5 L2123.9,1510.6 L2125.8,1507.0 L2127.6,1507.0 L2129.4,1509.2 L2131.2,1508.6 L2133.0,1511.6 L2134.8,1510.1 L2136.6,1508.9 L2138.4,1507.6 L2140.3,1511.6 L2142.1,1513.8 L2143.9,1516.6 L2145.7,1514.6 L2147.5,1515.5 L2149.3,1517.7 L2151.1,1517.3 L2152.9,1518.8 L2154.8,1522.4 L2156.6,1522.0 L2158.4,1523.2 L2160.2,1519.1 L2162.0,1520.1 L2163.8,1522.5 L2165.6,1522.3 L2167.4,1517.3 L2169.3,1517.6 L2171.1,1525.9 L2172.9,1523.6 L2174.7,1523.8 L2176.5,1521.9 L2178.3,1521.2 L2180.1,1523.8 L2181.9,1520.3 L2183.8,1527.2 L2185.6,1528.1 L2187.4,1524.1 L2189.2,1524.3 L2191.0,1527.7 L2192.8,1522.2 L2194.6,1522.5 L2196.4,1525.9 L2198.3,1527.6 L2200.1,1529.2 L2201.9,1527.6 L2203.7,1524.2 L2205.5,1526.0 L2207.3,1533.2 L2209.1,1536.4 L2210.9,1533.0 L2212.8,1531.9 L2214.6,1533.9 L2216.4,1532.4 L2218.2,1528.3 L2220.0,1525.1 L2221.8,1531.1 L2223.6,1530.9 L2225.4,1532.0 L2227.3,1535.7 L2229.1,1536.5 L2230.9,1533.0 L2232.7,1528.2 L2234.5,1529.1 L2236.3,1534.2 L2238.1,1534.4 L2239.9,1535.0 L2241.8,1530.9 L2243.6,1530.7 L2245.4,1535.8 L2247.2,1539.0 L2249.0,1536.7 L2250.8,1533.4 L2252.6,1532.6 L2254.4,1535.2 L2256.3,1533.4 L2258.1,1532.2 L2259.9,1531.6 L2261.7,1527.5 L2263.5,1529.8 L2265.3,1537.2 L2267.1,1543.6 L2268.9,1538.1 L2270.8,1532.7 L2272.6,1536.7 L2274.4,1537.1 L2276.2,1539.2 L2278.0,1537.0 L2279.8,1534.2 L2281.6,1535.9 L2283.4,1534.7 L2285.3,1542.8 L2287.1,1538.1 L2288.9,1529.2 L2290.7,1536.4 L2292.5,1539.0 L2294.3,1541.0 L2296.1,1540.2 L2297.9,1535.4 L2299.8,1536.4 L2301.6,1543.2 L2303.4,1544.7 L2305.2,1539.7 L2307.0,1538.0 L2308.8,1541.1 L2310.6,1541.1 L2312.4,1535.9 L2314.3,1531.0 L2316.1,1535.4 L2317.9,1536.9 L2319.7,1533.1 L2321.5,1531.5 L2323.3,1536.2 L2325.1,1537.1 L2326.9,1539.8 L2328.8,1544.0 L2330.6,1546.4 L2332.4,1541.8 L2334.2,1542.0 L2336.0,1543.0 L2337.8,1540.6 L2339.6,1538.7 L2341.4,1539.5 L2343.3,1537.3 L2345.1,1538.8 L2346.9,1540.7 L2348.7,1533.0 L2350.5,1540.3 L2352.3,1543.7 L2354.1,1539.9 L2355.9,1540.9 L2357.8,1542.6 L2359.6,1537.5 L2361.4,1538.2 L2363.2,1543.1 L2365.0,1546.6 L2366.8,1548.1 L2368.6,1545.3 L2370.4,1541.0 L2372.3,1544.4 L2374.1,1543.7 L2375.9,1538.2 L2377.7,1540.0 L2379.5,1543.4 L2381.3,1543.7 L2383.1,1546.1 L2384.9,1551.0 L2386.8,1549.5 L2388.6,1544.6 L2390.4,1543.8 L2392.2,1546.1 L2394.0,1553.4 L2395.8,1551.5 L2397.6,1547.9 L2399.4,1552.2 L2401.3,1547.6 L2403.1,1544.6 L2404.9,1543.8 L2406.7,1540.9 L2408.5,1542.4"/>
</g>
<text x="314.4" y="1589.8" font-size="78" text-anchor="end">0.0</text>
<text x="314.15" y="1354.7" font-size="78" text-anchor="end">0.1</text>
<text x="311.25" y="1097.2" font-size="78" text-anchor="end">0.2</text>
<text x="316.9" y="841.0" font-size="78" text-anchor="end">0.3</text>
<text x="314.55" y="596.4" font-size="78" text-anchor="end">0.4</text>
<text x="314.4" y="342.0" font-size="78" text-anchor="end">0.5</text>
<text x="320.35" y="88.8" font-size="78" text-anchor="end">0.6</text>
<text x="593.7" y="1685.5" font-size="78" text-anchor="middle">400</text>
<text x="1046.8" y="1685.5" font-size="78" text-anchor="middle">450</text>
<text x="1501.5" y="1685.5" font-size="78" text-anchor="middle">500</text>
<text x="1954.2" y="1685.5" font-size="78" text-anchor="middle">550</text>
<text x="2406.9" y="1685.5" font-size="78" text-anchor="middle">600</text>
<text x="902.8 1013.5 1082.8 1149.1 1218.2 1250.7 1316.8 1392.5 1465.1 1505.1 1539.6 1612.2 1650.7 1724.3 1831.5" y="1859.3" font-size="115" font-weight="bold">Wavelength [nm]</text>
<text transform="translate(119.7,1200.0) rotate(-90)" x="44.3 132.5 205.1 274.4 347.6 392.7 464.5 532.5 607.0 672.0" y="0" font-size="121" font-weight="bold">Absorbance</text>
<text x="1932.1 1977.9 1996.6 2038.0 2074.0 2118.1 2159.9 2181.8 2237.3 2290.2" y="204.0" font-size="75" font-weight="bold">T-azo2-OCH</text>
<text x="2343.1" y="230.5" font-size="40" font-weight="bold">3</text>
<text x="1934.3" y="317.8" font-size="62">λ</text>
<text x="1968.1 1988.6 2014.2" y="347.3" font-size="43">ex.</text>
<text x="2046.9 2068.5 2109.0 2150.2 2193.8 2215.4 2254.4 2297.4" y="317.6" font-size="72">= 445 nm</text>
<line x1="1927" y1="409.3" x2="2101" y2="409.3" stroke="#000000" stroke-width="9"/>
<text x="2116.4 2156.4" y="431.5" font-size="72">0s</text>
<line x1="1927" y1="500.5" x2="2101" y2="500.5" stroke="#ff0000" stroke-width="9"/>
<text x="2113.4 2156.4" y="524.4" font-size="72">1s</text>
<line x1="1927" y1="590.3" x2="2101" y2="590.3" stroke="#0000ff" stroke-width="9"/>
<text x="2115.4 2156.4" y="613.8" font-size="72">2s</text>
<line x1="1927" y1="680.4" x2="2101" y2="680.4" stroke="#1b7f7f" stroke-width="9"/>
<text x="2115.7 2156.4" y="703.3" font-size="72">4s</text>
<line x1="1927" y1="770.0" x2="2101" y2="770.0" stroke="#ff00ff" stroke-width="9"/>
<text x="2116.7 2156.4" y="792.6" font-size="72">9s</text>
<line x1="1927" y1="861.5" x2="2101" y2="861.5" stroke="#00ffff" stroke-width="9"/>
<text x="2115.7 2155.7 2197.7" y="884.9" font-size="72">20s</text>
</svg></body></html>
